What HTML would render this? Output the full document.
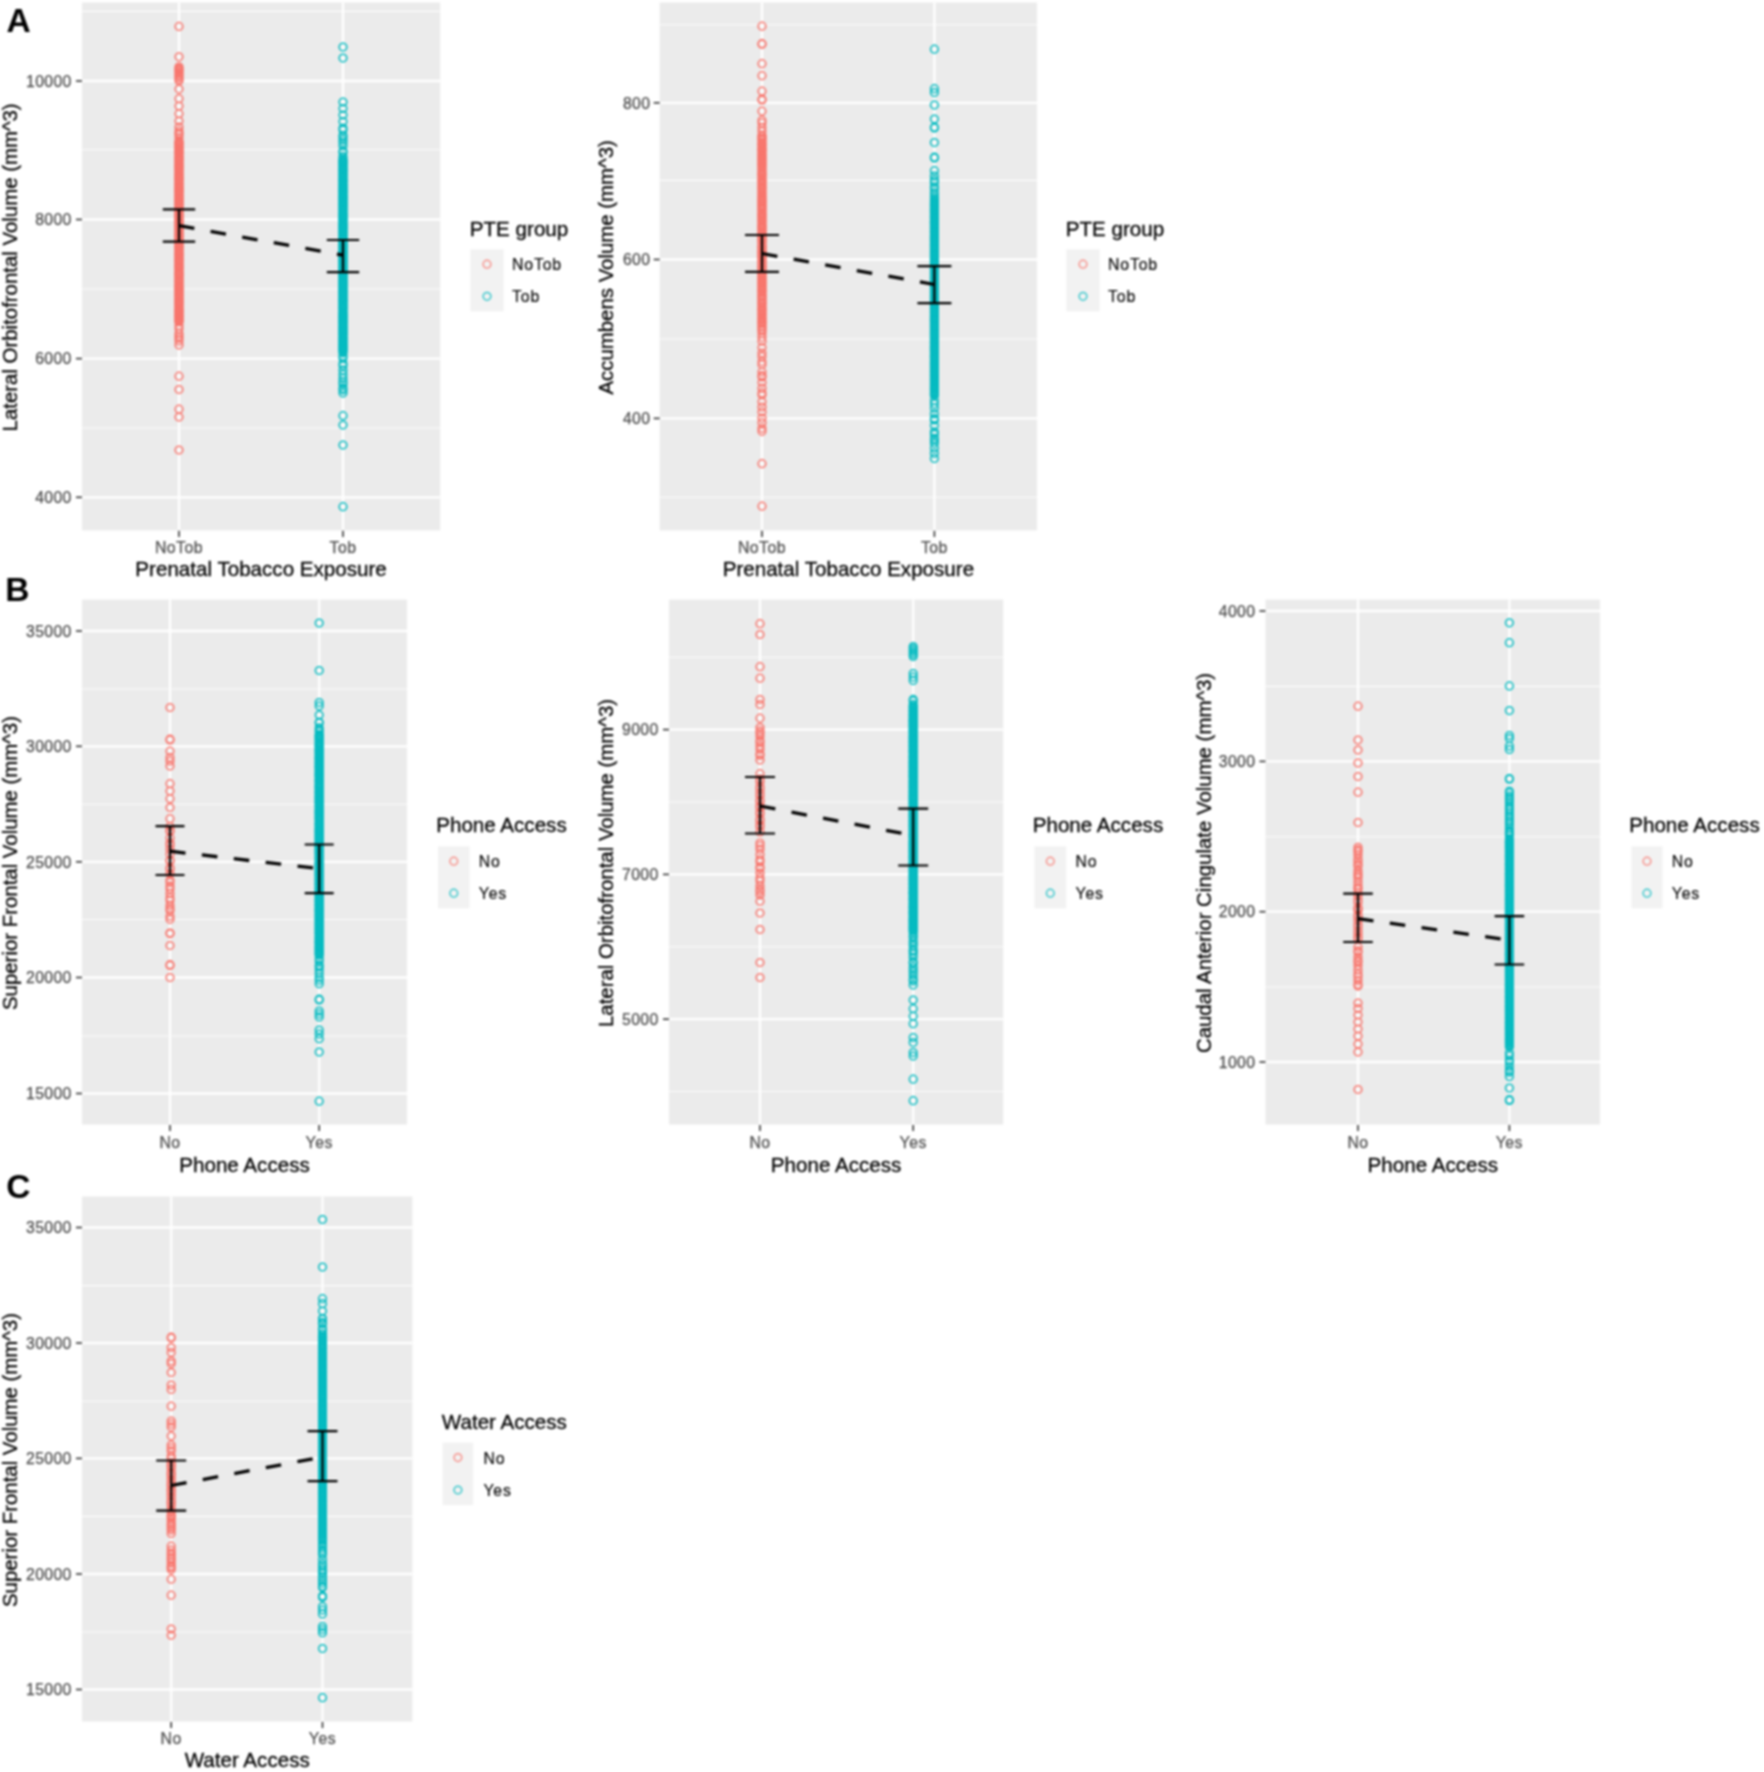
<!DOCTYPE html>
<html lang="en">
<head>
<meta charset="utf-8">
<title>Figure</title>
<style>
html,body{margin:0;padding:0;background:#fff;}
body{width:1764px;height:1772px;overflow:hidden;}
svg{display:block;filter:blur(0.8px);}
text{font-family:"Liberation Sans",sans-serif;}
.tt{font-size:20.6px;fill:#000;stroke:#000;stroke-width:.28;}
.ty{font-size:20.4px;fill:#000;stroke:#000;stroke-width:.28;}
.tk{font-size:15.8px;fill:#4D4D4D;stroke:#4D4D4D;stroke-width:.25;}
.lg{font-size:15.8px;fill:#000;stroke:#000;stroke-width:.15;}
.pl{font-size:33.5px;font-weight:bold;fill:#000;}
.r{fill:none;stroke:#F8766D;stroke-width:1.5;}
.t{fill:none;stroke:#06BBC1;stroke-width:1.5;}
.gM{stroke:#fff;stroke-width:2.3;}
.gm{stroke:#fff;stroke-width:1.1;stroke-opacity:.85;}
.ax{stroke:#333333;stroke-width:1.6;}
.eb{stroke:#000;stroke-width:2.2;fill:none;}
.dl{stroke:#000;stroke-width:3.3;stroke-dasharray:15.6 16.5;fill:none;}
</style>
</head>
<body>
<svg width="1764" height="1772" viewBox="0 0 1764 1772">
<rect width="1764" height="1772" fill="#fff"/>
<g>
<rect x="82" y="2.5" width="358.2" height="527.9" fill="#EBEBEB"/>
<line class="gm" x1="82" x2="440.2" y1="11.4" y2="11.4"/><line class="gm" x1="82" x2="440.2" y1="149.7" y2="149.7"/><line class="gm" x1="82" x2="440.2" y1="289" y2="289"/><line class="gm" x1="82" x2="440.2" y1="428" y2="428"/>
<line class="gM" x1="82" x2="440.2" y1="81" y2="81"/><line class="gM" x1="82" x2="440.2" y1="219.5" y2="219.5"/><line class="gM" x1="82" x2="440.2" y1="358.6" y2="358.6"/><line class="gM" x1="82" x2="440.2" y1="497.3" y2="497.3"/><line class="gM" x1="179" x2="179" y1="2.5" y2="530.4"/><line class="gM" x1="343" x2="343" y1="2.5" y2="530.4"/>
<g class="r"><circle cx="179" cy="26.4" r="3.85"/><circle cx="179" cy="56.8" r="3.85"/><circle cx="179" cy="66.8" r="3.85"/><circle cx="179" cy="68.5" r="3.85"/><circle cx="179" cy="69.6" r="3.85"/><circle cx="179" cy="70.6" r="3.85"/><circle cx="179" cy="72.2" r="3.85"/><circle cx="179" cy="73.7" r="3.85"/><circle cx="179" cy="75.4" r="3.85"/><circle cx="179" cy="76.9" r="3.85"/><circle cx="179" cy="78.9" r="3.85"/><circle cx="179" cy="80.8" r="3.85"/><circle cx="179" cy="89" r="3.85"/><circle cx="179" cy="98.7" r="3.85"/><circle cx="179" cy="106" r="3.85"/><circle cx="179" cy="113.7" r="3.85"/><circle cx="179" cy="121" r="3.85"/><circle cx="179" cy="127" r="3.85"/><circle cx="179" cy="131.1" r="3.85"/><circle cx="179" cy="133.3" r="3.85"/><circle cx="179" cy="134.5" r="3.85"/><circle cx="179" cy="137.5" r="3.85"/><circle cx="179" cy="140.9" r="3.85"/><circle cx="179" cy="142.1" r="3.85"/><circle cx="179" cy="143" r="3.85"/><circle cx="179" cy="143.4" r="3.85"/><circle cx="179" cy="144.7" r="3.85"/><circle cx="179" cy="145.4" r="3.85"/><circle cx="179" cy="146.5" r="3.85"/><circle cx="179" cy="147.7" r="3.85"/><circle cx="179" cy="148.4" r="3.85"/><circle cx="179" cy="149.6" r="3.85"/><circle cx="179" cy="151" r="3.85"/><circle cx="179" cy="152" r="3.85"/><circle cx="179" cy="152.4" r="3.85"/><circle cx="179" cy="153.4" r="3.85"/><circle cx="179" cy="154.3" r="3.85"/><circle cx="179" cy="155.9" r="3.85"/><circle cx="179" cy="157" r="3.85"/><circle cx="179" cy="157.8" r="3.85"/><circle cx="179" cy="158.8" r="3.85"/><circle cx="179" cy="159.9" r="3.85"/><circle cx="179" cy="160.9" r="3.85"/><circle cx="179" cy="161.7" r="3.85"/><circle cx="179" cy="163.2" r="3.85"/><circle cx="179" cy="164.6" r="3.85"/><circle cx="179" cy="165.1" r="3.85"/><circle cx="179" cy="166" r="3.85"/><circle cx="179" cy="167.1" r="3.85"/><circle cx="179" cy="167.8" r="3.85"/><circle cx="179" cy="169" r="3.85"/><circle cx="179" cy="170" r="3.85"/><circle cx="179" cy="171" r="3.85"/><circle cx="179" cy="172.3" r="3.85"/><circle cx="179" cy="173.7" r="3.85"/><circle cx="179" cy="174.5" r="3.85"/><circle cx="179" cy="175.5" r="3.85"/><circle cx="179" cy="177.1" r="3.85"/><circle cx="179" cy="177.4" r="3.85"/><circle cx="179" cy="178.3" r="3.85"/><circle cx="179" cy="179.5" r="3.85"/><circle cx="179" cy="180" r="3.85"/><circle cx="179" cy="181.2" r="3.85"/><circle cx="179" cy="182.7" r="3.85"/><circle cx="179" cy="183.5" r="3.85"/><circle cx="179" cy="184.6" r="3.85"/><circle cx="179" cy="185.6" r="3.85"/><circle cx="179" cy="186.7" r="3.85"/><circle cx="179" cy="187.5" r="3.85"/><circle cx="179" cy="188.2" r="3.85"/><circle cx="179" cy="189.3" r="3.85"/><circle cx="179" cy="190.2" r="3.85"/><circle cx="179" cy="191.1" r="3.85"/><circle cx="179" cy="191.6" r="3.85"/><circle cx="179" cy="192.5" r="3.85"/><circle cx="179" cy="193.4" r="3.85"/><circle cx="179" cy="195" r="3.85"/><circle cx="179" cy="195.6" r="3.85"/><circle cx="179" cy="196.6" r="3.85"/><circle cx="179" cy="197.7" r="3.85"/><circle cx="179" cy="198.7" r="3.85"/><circle cx="179" cy="199.4" r="3.85"/><circle cx="179" cy="200.4" r="3.85"/><circle cx="179" cy="201.6" r="3.85"/><circle cx="179" cy="201.9" r="3.85"/><circle cx="179" cy="203.5" r="3.85"/><circle cx="179" cy="204.3" r="3.85"/><circle cx="179" cy="205.1" r="3.85"/><circle cx="179" cy="206.5" r="3.85"/><circle cx="179" cy="207.2" r="3.85"/><circle cx="179" cy="208.1" r="3.85"/><circle cx="179" cy="209.5" r="3.85"/><circle cx="179" cy="210.5" r="3.85"/><circle cx="179" cy="211.7" r="3.85"/><circle cx="179" cy="212.9" r="3.85"/><circle cx="179" cy="214.1" r="3.85"/><circle cx="179" cy="214.8" r="3.85"/><circle cx="179" cy="215.9" r="3.85"/><circle cx="179" cy="216.4" r="3.85"/><circle cx="179" cy="217.5" r="3.85"/><circle cx="179" cy="219" r="3.85"/><circle cx="179" cy="220" r="3.85"/><circle cx="179" cy="221.3" r="3.85"/><circle cx="179" cy="221.7" r="3.85"/><circle cx="179" cy="222.5" r="3.85"/><circle cx="179" cy="223.7" r="3.85"/><circle cx="179" cy="225" r="3.85"/><circle cx="179" cy="225.9" r="3.85"/><circle cx="179" cy="226.6" r="3.85"/><circle cx="179" cy="228.3" r="3.85"/><circle cx="179" cy="229.3" r="3.85"/><circle cx="179" cy="229.9" r="3.85"/><circle cx="179" cy="231.2" r="3.85"/><circle cx="179" cy="232.8" r="3.85"/><circle cx="179" cy="233.3" r="3.85"/><circle cx="179" cy="234.8" r="3.85"/><circle cx="179" cy="235.2" r="3.85"/><circle cx="179" cy="236.6" r="3.85"/><circle cx="179" cy="237.2" r="3.85"/><circle cx="179" cy="238.9" r="3.85"/><circle cx="179" cy="239.6" r="3.85"/><circle cx="179" cy="240.4" r="3.85"/><circle cx="179" cy="241.8" r="3.85"/><circle cx="179" cy="242.5" r="3.85"/><circle cx="179" cy="243.7" r="3.85"/><circle cx="179" cy="245.2" r="3.85"/><circle cx="179" cy="245.6" r="3.85"/><circle cx="179" cy="246.5" r="3.85"/><circle cx="179" cy="247.6" r="3.85"/><circle cx="179" cy="248.4" r="3.85"/><circle cx="179" cy="249.8" r="3.85"/><circle cx="179" cy="250.9" r="3.85"/><circle cx="179" cy="252" r="3.85"/><circle cx="179" cy="253.3" r="3.85"/><circle cx="179" cy="254.3" r="3.85"/><circle cx="179" cy="255" r="3.85"/><circle cx="179" cy="255.5" r="3.85"/><circle cx="179" cy="256.8" r="3.85"/><circle cx="179" cy="258.2" r="3.85"/><circle cx="179" cy="258.9" r="3.85"/><circle cx="179" cy="260.1" r="3.85"/><circle cx="179" cy="260.9" r="3.85"/><circle cx="179" cy="262.1" r="3.85"/><circle cx="179" cy="263.3" r="3.85"/><circle cx="179" cy="264.2" r="3.85"/><circle cx="179" cy="265.5" r="3.85"/><circle cx="179" cy="266.3" r="3.85"/><circle cx="179" cy="267.2" r="3.85"/><circle cx="179" cy="268.3" r="3.85"/><circle cx="179" cy="269.3" r="3.85"/><circle cx="179" cy="270.7" r="3.85"/><circle cx="179" cy="272.1" r="3.85"/><circle cx="179" cy="272.7" r="3.85"/><circle cx="179" cy="274.1" r="3.85"/><circle cx="179" cy="274.4" r="3.85"/><circle cx="179" cy="275.3" r="3.85"/><circle cx="179" cy="276.2" r="3.85"/><circle cx="179" cy="277.8" r="3.85"/><circle cx="179" cy="278.6" r="3.85"/><circle cx="179" cy="280" r="3.85"/><circle cx="179" cy="281" r="3.85"/><circle cx="179" cy="281.8" r="3.85"/><circle cx="179" cy="283.1" r="3.85"/><circle cx="179" cy="284.5" r="3.85"/><circle cx="179" cy="285.1" r="3.85"/><circle cx="179" cy="286.3" r="3.85"/><circle cx="179" cy="287" r="3.85"/><circle cx="179" cy="288.3" r="3.85"/><circle cx="179" cy="288.9" r="3.85"/><circle cx="179" cy="289.5" r="3.85"/><circle cx="179" cy="290.9" r="3.85"/><circle cx="179" cy="291.5" r="3.85"/><circle cx="179" cy="293.2" r="3.85"/><circle cx="179" cy="294" r="3.85"/><circle cx="179" cy="294.8" r="3.85"/><circle cx="179" cy="296.1" r="3.85"/><circle cx="179" cy="297.1" r="3.85"/><circle cx="179" cy="298.5" r="3.85"/><circle cx="179" cy="299" r="3.85"/><circle cx="179" cy="300.5" r="3.85"/><circle cx="179" cy="301.2" r="3.85"/><circle cx="179" cy="302.4" r="3.85"/><circle cx="179" cy="302.9" r="3.85"/><circle cx="179" cy="304.6" r="3.85"/><circle cx="179" cy="305.3" r="3.85"/><circle cx="179" cy="306.5" r="3.85"/><circle cx="179" cy="307.9" r="3.85"/><circle cx="179" cy="308.9" r="3.85"/><circle cx="179" cy="309.9" r="3.85"/><circle cx="179" cy="310.9" r="3.85"/><circle cx="179" cy="311.5" r="3.85"/><circle cx="179" cy="312.3" r="3.85"/><circle cx="179" cy="313.3" r="3.85"/><circle cx="179" cy="314.6" r="3.85"/><circle cx="179" cy="315.3" r="3.85"/><circle cx="179" cy="316" r="3.85"/><circle cx="179" cy="316.7" r="3.85"/><circle cx="179" cy="317.8" r="3.85"/><circle cx="179" cy="318.4" r="3.85"/><circle cx="179" cy="319.9" r="3.85"/><circle cx="179" cy="320.7" r="3.85"/><circle cx="179" cy="321.4" r="3.85"/><circle cx="179" cy="321.8" r="3.85"/><circle cx="179" cy="325.6" r="3.85"/><circle cx="179" cy="328.8" r="3.85"/><circle cx="179" cy="333.4" r="3.85"/><circle cx="179" cy="336.1" r="3.85"/><circle cx="179" cy="338.3" r="3.85"/><circle cx="179" cy="340.9" r="3.85"/><circle cx="179" cy="344.9" r="3.85"/><circle cx="179" cy="376.2" r="3.85"/><circle cx="179" cy="389.5" r="3.85"/><circle cx="179" cy="409.2" r="3.85"/><circle cx="179" cy="417" r="3.85"/><circle cx="179" cy="450" r="3.85"/></g>
<g class="t"><circle cx="343" cy="47" r="3.85"/><circle cx="343" cy="58" r="3.85"/><circle cx="343" cy="102" r="3.85"/><circle cx="343" cy="108.5" r="3.85"/><circle cx="343" cy="115" r="3.85"/><circle cx="343" cy="121.5" r="3.85"/><circle cx="343" cy="128" r="3.85"/><circle cx="343" cy="130.1" r="3.85"/><circle cx="343" cy="135.3" r="3.85"/><circle cx="343" cy="137.3" r="3.85"/><circle cx="343" cy="139.9" r="3.85"/><circle cx="343" cy="142.6" r="3.85"/><circle cx="343" cy="145.7" r="3.85"/><circle cx="343" cy="150.9" r="3.85"/><circle cx="343" cy="152.5" r="3.85"/><circle cx="343" cy="156.3" r="3.85"/><circle cx="343" cy="158.4" r="3.85"/><circle cx="343" cy="160" r="3.85"/><circle cx="343" cy="160.8" r="3.85"/><circle cx="343" cy="161.7" r="3.85"/><circle cx="343" cy="162.6" r="3.85"/><circle cx="343" cy="163.5" r="3.85"/><circle cx="343" cy="164.5" r="3.85"/><circle cx="343" cy="165.5" r="3.85"/><circle cx="343" cy="166.7" r="3.85"/><circle cx="343" cy="167.7" r="3.85"/><circle cx="343" cy="168.7" r="3.85"/><circle cx="343" cy="170" r="3.85"/><circle cx="343" cy="170.6" r="3.85"/><circle cx="343" cy="171.2" r="3.85"/><circle cx="343" cy="173" r="3.85"/><circle cx="343" cy="174" r="3.85"/><circle cx="343" cy="174.7" r="3.85"/><circle cx="343" cy="176" r="3.85"/><circle cx="343" cy="177.3" r="3.85"/><circle cx="343" cy="178.3" r="3.85"/><circle cx="343" cy="179.6" r="3.85"/><circle cx="343" cy="180.4" r="3.85"/><circle cx="343" cy="181.1" r="3.85"/><circle cx="343" cy="182" r="3.85"/><circle cx="343" cy="183.5" r="3.85"/><circle cx="343" cy="184.6" r="3.85"/><circle cx="343" cy="185.6" r="3.85"/><circle cx="343" cy="186.6" r="3.85"/><circle cx="343" cy="187.5" r="3.85"/><circle cx="343" cy="188.6" r="3.85"/><circle cx="343" cy="189.4" r="3.85"/><circle cx="343" cy="189.9" r="3.85"/><circle cx="343" cy="191.2" r="3.85"/><circle cx="343" cy="192.1" r="3.85"/><circle cx="343" cy="193.1" r="3.85"/><circle cx="343" cy="194" r="3.85"/><circle cx="343" cy="195.3" r="3.85"/><circle cx="343" cy="196.3" r="3.85"/><circle cx="343" cy="196.8" r="3.85"/><circle cx="343" cy="198.1" r="3.85"/><circle cx="343" cy="198.8" r="3.85"/><circle cx="343" cy="199.2" r="3.85"/><circle cx="343" cy="200.5" r="3.85"/><circle cx="343" cy="201.6" r="3.85"/><circle cx="343" cy="202.4" r="3.85"/><circle cx="343" cy="203.4" r="3.85"/><circle cx="343" cy="204.5" r="3.85"/><circle cx="343" cy="205.4" r="3.85"/><circle cx="343" cy="205.9" r="3.85"/><circle cx="343" cy="207.5" r="3.85"/><circle cx="343" cy="208.5" r="3.85"/><circle cx="343" cy="209.2" r="3.85"/><circle cx="343" cy="210.4" r="3.85"/><circle cx="343" cy="211.4" r="3.85"/><circle cx="343" cy="213" r="3.85"/><circle cx="343" cy="213.7" r="3.85"/><circle cx="343" cy="214.7" r="3.85"/><circle cx="343" cy="215.4" r="3.85"/><circle cx="343" cy="216.8" r="3.85"/><circle cx="343" cy="217.2" r="3.85"/><circle cx="343" cy="218.5" r="3.85"/><circle cx="343" cy="219.2" r="3.85"/><circle cx="343" cy="220.2" r="3.85"/><circle cx="343" cy="221.2" r="3.85"/><circle cx="343" cy="222.9" r="3.85"/><circle cx="343" cy="223.8" r="3.85"/><circle cx="343" cy="224.8" r="3.85"/><circle cx="343" cy="225.4" r="3.85"/><circle cx="343" cy="226.8" r="3.85"/><circle cx="343" cy="227.3" r="3.85"/><circle cx="343" cy="228.3" r="3.85"/><circle cx="343" cy="228.9" r="3.85"/><circle cx="343" cy="230.2" r="3.85"/><circle cx="343" cy="231.4" r="3.85"/><circle cx="343" cy="232.5" r="3.85"/><circle cx="343" cy="233.2" r="3.85"/><circle cx="343" cy="234.8" r="3.85"/><circle cx="343" cy="235.8" r="3.85"/><circle cx="343" cy="237.2" r="3.85"/><circle cx="343" cy="238.1" r="3.85"/><circle cx="343" cy="238.9" r="3.85"/><circle cx="343" cy="239.8" r="3.85"/><circle cx="343" cy="240.6" r="3.85"/><circle cx="343" cy="241.8" r="3.85"/><circle cx="343" cy="242.3" r="3.85"/><circle cx="343" cy="243.1" r="3.85"/><circle cx="343" cy="244.7" r="3.85"/><circle cx="343" cy="245.4" r="3.85"/><circle cx="343" cy="246.2" r="3.85"/><circle cx="343" cy="246.9" r="3.85"/><circle cx="343" cy="247.7" r="3.85"/><circle cx="343" cy="249.1" r="3.85"/><circle cx="343" cy="250.3" r="3.85"/><circle cx="343" cy="251.2" r="3.85"/><circle cx="343" cy="251.8" r="3.85"/><circle cx="343" cy="252.7" r="3.85"/><circle cx="343" cy="253.5" r="3.85"/><circle cx="343" cy="254.6" r="3.85"/><circle cx="343" cy="255.9" r="3.85"/><circle cx="343" cy="256.6" r="3.85"/><circle cx="343" cy="257.6" r="3.85"/><circle cx="343" cy="258.3" r="3.85"/><circle cx="343" cy="259.8" r="3.85"/><circle cx="343" cy="260.3" r="3.85"/><circle cx="343" cy="261.6" r="3.85"/><circle cx="343" cy="262.1" r="3.85"/><circle cx="343" cy="263" r="3.85"/><circle cx="343" cy="264.4" r="3.85"/><circle cx="343" cy="265.5" r="3.85"/><circle cx="343" cy="265.7" r="3.85"/><circle cx="343" cy="267.4" r="3.85"/><circle cx="343" cy="268.2" r="3.85"/><circle cx="343" cy="268.8" r="3.85"/><circle cx="343" cy="270.3" r="3.85"/><circle cx="343" cy="271.6" r="3.85"/><circle cx="343" cy="271.8" r="3.85"/><circle cx="343" cy="273" r="3.85"/><circle cx="343" cy="274.3" r="3.85"/><circle cx="343" cy="275.3" r="3.85"/><circle cx="343" cy="276.3" r="3.85"/><circle cx="343" cy="277" r="3.85"/><circle cx="343" cy="278.3" r="3.85"/><circle cx="343" cy="279.8" r="3.85"/><circle cx="343" cy="280.3" r="3.85"/><circle cx="343" cy="281.5" r="3.85"/><circle cx="343" cy="282.3" r="3.85"/><circle cx="343" cy="283.3" r="3.85"/><circle cx="343" cy="284.3" r="3.85"/><circle cx="343" cy="285.3" r="3.85"/><circle cx="343" cy="285.8" r="3.85"/><circle cx="343" cy="287.3" r="3.85"/><circle cx="343" cy="288.3" r="3.85"/><circle cx="343" cy="288.8" r="3.85"/><circle cx="343" cy="290.2" r="3.85"/><circle cx="343" cy="290.9" r="3.85"/><circle cx="343" cy="291.8" r="3.85"/><circle cx="343" cy="292.8" r="3.85"/><circle cx="343" cy="293.8" r="3.85"/><circle cx="343" cy="294.7" r="3.85"/><circle cx="343" cy="295.6" r="3.85"/><circle cx="343" cy="296.8" r="3.85"/><circle cx="343" cy="297.7" r="3.85"/><circle cx="343" cy="298.6" r="3.85"/><circle cx="343" cy="299.8" r="3.85"/><circle cx="343" cy="300.6" r="3.85"/><circle cx="343" cy="301.1" r="3.85"/><circle cx="343" cy="302.2" r="3.85"/><circle cx="343" cy="303.6" r="3.85"/><circle cx="343" cy="304.3" r="3.85"/><circle cx="343" cy="305.5" r="3.85"/><circle cx="343" cy="306.4" r="3.85"/><circle cx="343" cy="307.4" r="3.85"/><circle cx="343" cy="308.6" r="3.85"/><circle cx="343" cy="309.3" r="3.85"/><circle cx="343" cy="310.8" r="3.85"/><circle cx="343" cy="311.9" r="3.85"/><circle cx="343" cy="313.3" r="3.85"/><circle cx="343" cy="313.7" r="3.85"/><circle cx="343" cy="315.3" r="3.85"/><circle cx="343" cy="316" r="3.85"/><circle cx="343" cy="316.7" r="3.85"/><circle cx="343" cy="317.5" r="3.85"/><circle cx="343" cy="318.3" r="3.85"/><circle cx="343" cy="319.7" r="3.85"/><circle cx="343" cy="320.6" r="3.85"/><circle cx="343" cy="321" r="3.85"/><circle cx="343" cy="322.5" r="3.85"/><circle cx="343" cy="322.9" r="3.85"/><circle cx="343" cy="324.1" r="3.85"/><circle cx="343" cy="325.2" r="3.85"/><circle cx="343" cy="326.6" r="3.85"/><circle cx="343" cy="327" r="3.85"/><circle cx="343" cy="328.4" r="3.85"/><circle cx="343" cy="328.7" r="3.85"/><circle cx="343" cy="330.1" r="3.85"/><circle cx="343" cy="330.9" r="3.85"/><circle cx="343" cy="331.8" r="3.85"/><circle cx="343" cy="333.1" r="3.85"/><circle cx="343" cy="333.7" r="3.85"/><circle cx="343" cy="334.8" r="3.85"/><circle cx="343" cy="335.5" r="3.85"/><circle cx="343" cy="337.2" r="3.85"/><circle cx="343" cy="338.3" r="3.85"/><circle cx="343" cy="338.6" r="3.85"/><circle cx="343" cy="340.1" r="3.85"/><circle cx="343" cy="340.9" r="3.85"/><circle cx="343" cy="341.8" r="3.85"/><circle cx="343" cy="343.2" r="3.85"/><circle cx="343" cy="343.9" r="3.85"/><circle cx="343" cy="345.1" r="3.85"/><circle cx="343" cy="346" r="3.85"/><circle cx="343" cy="346.8" r="3.85"/><circle cx="343" cy="348" r="3.85"/><circle cx="343" cy="348.4" r="3.85"/><circle cx="343" cy="349.6" r="3.85"/><circle cx="343" cy="350.2" r="3.85"/><circle cx="343" cy="351.4" r="3.85"/><circle cx="343" cy="353" r="3.85"/><circle cx="343" cy="355.9" r="3.85"/><circle cx="343" cy="358.3" r="3.85"/><circle cx="343" cy="363.5" r="3.85"/><circle cx="343" cy="365.8" r="3.85"/><circle cx="343" cy="370.2" r="3.85"/><circle cx="343" cy="374.4" r="3.85"/><circle cx="343" cy="378.4" r="3.85"/><circle cx="343" cy="381.8" r="3.85"/><circle cx="343" cy="384.3" r="3.85"/><circle cx="343" cy="388.1" r="3.85"/><circle cx="343" cy="390" r="3.85"/><circle cx="343" cy="392.9" r="3.85"/><circle cx="343" cy="415.7" r="3.85"/><circle cx="343" cy="425" r="3.85"/><circle cx="343" cy="445" r="3.85"/><circle cx="343" cy="506.7" r="3.85"/></g>
<line class="dl" x1="179" y1="225.6" x2="343" y2="255.2"/>
<path class="eb" d="M162.8 209.3H195.2M179 209.3V241.7M162.8 241.7H195.2"/><path class="eb" d="M326.8 240H359.2M343 240V272.2M326.8 272.2H359.2"/>
<line class="ax" x1="76" x2="82" y1="81" y2="81"/><text class="tk" letter-spacing=".35" text-anchor="end" x="71.7" y="86.7">10000</text><line class="ax" x1="76" x2="82" y1="219.5" y2="219.5"/><text class="tk" letter-spacing=".35" text-anchor="end" x="71.7" y="225.2">8000</text><line class="ax" x1="76" x2="82" y1="358.6" y2="358.6"/><text class="tk" letter-spacing=".35" text-anchor="end" x="71.7" y="364.3">6000</text><line class="ax" x1="76" x2="82" y1="497.3" y2="497.3"/><text class="tk" letter-spacing=".35" text-anchor="end" x="71.7" y="503">4000</text>
<line class="ax" x1="179" x2="179" y1="530.8" y2="537"/><text class="tk" letter-spacing=".5" text-anchor="middle" x="179" y="552.7">NoTob</text><line class="ax" x1="343" x2="343" y1="530.8" y2="537"/><text class="tk" letter-spacing=".5" text-anchor="middle" x="343" y="552.7">Tob</text>
<text class="tt" text-anchor="middle" x="261.1" y="575.5">Prenatal Tobacco Exposure</text>
<text class="ty" text-anchor="middle" transform="translate(16.5 267.4) rotate(-90)">Lateral Orbitofrontal Volume (mm^3)</text>
<text class="tt" x="469.8" y="235.7">PTE group</text>
<rect x="470.4" y="249.3" width="33.3" height="62.1" fill="#F2F2F2"/>
<circle class="r" stroke-opacity=".78" cx="487" cy="264.2" r="3.85"/><text class="lg" letter-spacing=".85" x="512" y="270.3">NoTob</text>
<circle class="t" stroke-opacity=".78" cx="487" cy="296.3" r="3.85"/><text class="lg" letter-spacing=".85" x="512" y="302.4">Tob</text>
</g>
<g>
<rect x="659.7" y="2.5" width="377.3" height="527.9" fill="#EBEBEB"/>
<line class="gm" x1="659.7" x2="1037" y1="24.8" y2="24.8"/><line class="gm" x1="659.7" x2="1037" y1="180.4" y2="180.4"/><line class="gm" x1="659.7" x2="1037" y1="339" y2="339"/><line class="gm" x1="659.7" x2="1037" y1="497.3" y2="497.3"/>
<line class="gM" x1="659.7" x2="1037" y1="102.8" y2="102.8"/><line class="gM" x1="659.7" x2="1037" y1="259.5" y2="259.5"/><line class="gM" x1="659.7" x2="1037" y1="418.4" y2="418.4"/><line class="gM" x1="762" x2="762" y1="2.5" y2="530.4"/><line class="gM" x1="934.4" x2="934.4" y1="2.5" y2="530.4"/>
<g class="r"><circle cx="762" cy="26.2" r="3.85"/><circle cx="762" cy="43.7" r="3.85"/><circle cx="762" cy="44.2" r="3.85"/><circle cx="762" cy="63.7" r="3.85"/><circle cx="762" cy="75.7" r="3.85"/><circle cx="762" cy="91.2" r="3.85"/><circle cx="762" cy="99.2" r="3.85"/><circle cx="762" cy="100" r="3.85"/><circle cx="762" cy="111.2" r="3.85"/><circle cx="762" cy="120.2" r="3.85"/><circle cx="762" cy="122.9" r="3.85"/><circle cx="762" cy="127.6" r="3.85"/><circle cx="762" cy="131.3" r="3.85"/><circle cx="762" cy="135.6" r="3.85"/><circle cx="762" cy="136" r="3.85"/><circle cx="762" cy="138" r="3.85"/><circle cx="762" cy="138.9" r="3.85"/><circle cx="762" cy="140.2" r="3.85"/><circle cx="762" cy="142.2" r="3.85"/><circle cx="762" cy="143.6" r="3.85"/><circle cx="762" cy="144.9" r="3.85"/><circle cx="762" cy="145.6" r="3.85"/><circle cx="762" cy="147.9" r="3.85"/><circle cx="762" cy="148.7" r="3.85"/><circle cx="762" cy="149.8" r="3.85"/><circle cx="762" cy="151" r="3.85"/><circle cx="762" cy="152.3" r="3.85"/><circle cx="762" cy="154.2" r="3.85"/><circle cx="762" cy="154.8" r="3.85"/><circle cx="762" cy="156.7" r="3.85"/><circle cx="762" cy="157.5" r="3.85"/><circle cx="762" cy="159.2" r="3.85"/><circle cx="762" cy="159.9" r="3.85"/><circle cx="762" cy="161.4" r="3.85"/><circle cx="762" cy="163" r="3.85"/><circle cx="762" cy="163.7" r="3.85"/><circle cx="762" cy="165.5" r="3.85"/><circle cx="762" cy="166.6" r="3.85"/><circle cx="762" cy="168.3" r="3.85"/><circle cx="762" cy="169.8" r="3.85"/><circle cx="762" cy="171.7" r="3.85"/><circle cx="762" cy="172.9" r="3.85"/><circle cx="762" cy="174.5" r="3.85"/><circle cx="762" cy="174.9" r="3.85"/><circle cx="762" cy="177" r="3.85"/><circle cx="762" cy="178.6" r="3.85"/><circle cx="762" cy="180.4" r="3.85"/><circle cx="762" cy="181.1" r="3.85"/><circle cx="762" cy="183.1" r="3.85"/><circle cx="762" cy="184.3" r="3.85"/><circle cx="762" cy="186" r="3.85"/><circle cx="762" cy="187.2" r="3.85"/><circle cx="762" cy="188.8" r="3.85"/><circle cx="762" cy="190.1" r="3.85"/><circle cx="762" cy="192.2" r="3.85"/><circle cx="762" cy="193.3" r="3.85"/><circle cx="762" cy="195.2" r="3.85"/><circle cx="762" cy="196.5" r="3.85"/><circle cx="762" cy="198" r="3.85"/><circle cx="762" cy="199.3" r="3.85"/><circle cx="762" cy="200.7" r="3.85"/><circle cx="762" cy="201.8" r="3.85"/><circle cx="762" cy="202.7" r="3.85"/><circle cx="762" cy="204.7" r="3.85"/><circle cx="762" cy="205.3" r="3.85"/><circle cx="762" cy="206.9" r="3.85"/><circle cx="762" cy="207.9" r="3.85"/><circle cx="762" cy="209.7" r="3.85"/><circle cx="762" cy="210.7" r="3.85"/><circle cx="762" cy="212.8" r="3.85"/><circle cx="762" cy="214" r="3.85"/><circle cx="762" cy="214.9" r="3.85"/><circle cx="762" cy="216.4" r="3.85"/><circle cx="762" cy="217.4" r="3.85"/><circle cx="762" cy="218.9" r="3.85"/><circle cx="762" cy="220.4" r="3.85"/><circle cx="762" cy="221.4" r="3.85"/><circle cx="762" cy="223.3" r="3.85"/><circle cx="762" cy="224.8" r="3.85"/><circle cx="762" cy="226.1" r="3.85"/><circle cx="762" cy="227.3" r="3.85"/><circle cx="762" cy="228" r="3.85"/><circle cx="762" cy="229.4" r="3.85"/><circle cx="762" cy="231.1" r="3.85"/><circle cx="762" cy="232.3" r="3.85"/><circle cx="762" cy="233.5" r="3.85"/><circle cx="762" cy="234.9" r="3.85"/><circle cx="762" cy="236" r="3.85"/><circle cx="762" cy="237.7" r="3.85"/><circle cx="762" cy="238.8" r="3.85"/><circle cx="762" cy="240.4" r="3.85"/><circle cx="762" cy="241.5" r="3.85"/><circle cx="762" cy="243.5" r="3.85"/><circle cx="762" cy="245.7" r="3.85"/><circle cx="762" cy="246.7" r="3.85"/><circle cx="762" cy="247.7" r="3.85"/><circle cx="762" cy="249.7" r="3.85"/><circle cx="762" cy="251" r="3.85"/><circle cx="762" cy="252.2" r="3.85"/><circle cx="762" cy="253" r="3.85"/><circle cx="762" cy="254.4" r="3.85"/><circle cx="762" cy="255.9" r="3.85"/><circle cx="762" cy="256.7" r="3.85"/><circle cx="762" cy="258" r="3.85"/><circle cx="762" cy="260.3" r="3.85"/><circle cx="762" cy="261.4" r="3.85"/><circle cx="762" cy="263" r="3.85"/><circle cx="762" cy="264.9" r="3.85"/><circle cx="762" cy="266.4" r="3.85"/><circle cx="762" cy="267.6" r="3.85"/><circle cx="762" cy="268.8" r="3.85"/><circle cx="762" cy="271.1" r="3.85"/><circle cx="762" cy="272.5" r="3.85"/><circle cx="762" cy="274" r="3.85"/><circle cx="762" cy="274.8" r="3.85"/><circle cx="762" cy="276.5" r="3.85"/><circle cx="762" cy="277.9" r="3.85"/><circle cx="762" cy="279.1" r="3.85"/><circle cx="762" cy="280.2" r="3.85"/><circle cx="762" cy="281.8" r="3.85"/><circle cx="762" cy="283.1" r="3.85"/><circle cx="762" cy="283.9" r="3.85"/><circle cx="762" cy="285.6" r="3.85"/><circle cx="762" cy="286.8" r="3.85"/><circle cx="762" cy="288.1" r="3.85"/><circle cx="762" cy="289.9" r="3.85"/><circle cx="762" cy="290.3" r="3.85"/><circle cx="762" cy="291.7" r="3.85"/><circle cx="762" cy="293.1" r="3.85"/><circle cx="762" cy="294.9" r="3.85"/><circle cx="762" cy="296.1" r="3.85"/><circle cx="762" cy="297.1" r="3.85"/><circle cx="762" cy="298.9" r="3.85"/><circle cx="762" cy="299.9" r="3.85"/><circle cx="762" cy="302.1" r="3.85"/><circle cx="762" cy="303.3" r="3.85"/><circle cx="762" cy="304.1" r="3.85"/><circle cx="762" cy="306.2" r="3.85"/><circle cx="762" cy="307.5" r="3.85"/><circle cx="762" cy="309.2" r="3.85"/><circle cx="762" cy="310.1" r="3.85"/><circle cx="762" cy="311.6" r="3.85"/><circle cx="762" cy="313.3" r="3.85"/><circle cx="762" cy="314.2" r="3.85"/><circle cx="762" cy="315.8" r="3.85"/><circle cx="762" cy="318.1" r="3.85"/><circle cx="762" cy="318.5" r="3.85"/><circle cx="762" cy="320.3" r="3.85"/><circle cx="762" cy="322.1" r="3.85"/><circle cx="762" cy="322.8" r="3.85"/><circle cx="762" cy="323.8" r="3.85"/><circle cx="762" cy="326.2" r="3.85"/><circle cx="762" cy="327" r="3.85"/><circle cx="762" cy="329.3" r="3.85"/><circle cx="762" cy="330.8" r="3.85"/><circle cx="762" cy="333.6" r="3.85"/><circle cx="762" cy="337.3" r="3.85"/><circle cx="762" cy="341.2" r="3.85"/><circle cx="762" cy="347.5" r="3.85"/><circle cx="762" cy="353" r="3.85"/><circle cx="762" cy="356.5" r="3.85"/><circle cx="762" cy="361.7" r="3.85"/><circle cx="762" cy="364.7" r="3.85"/><circle cx="762" cy="371.9" r="3.85"/><circle cx="762" cy="375.6" r="3.85"/><circle cx="762" cy="377" r="3.85"/><circle cx="762" cy="382.6" r="3.85"/><circle cx="762" cy="388.2" r="3.85"/><circle cx="762" cy="392.9" r="3.85"/><circle cx="762" cy="395" r="3.85"/><circle cx="762" cy="401.8" r="3.85"/><circle cx="762" cy="407" r="3.85"/><circle cx="762" cy="412" r="3.85"/><circle cx="762" cy="418.1" r="3.85"/><circle cx="762" cy="422.7" r="3.85"/><circle cx="762" cy="428.3" r="3.85"/><circle cx="762" cy="431.3" r="3.85"/><circle cx="762" cy="463.7" r="3.85"/><circle cx="762" cy="506.2" r="3.85"/></g>
<g class="t"><circle cx="934.4" cy="49.2" r="3.85"/><circle cx="934.4" cy="88.7" r="3.85"/><circle cx="934.4" cy="92.5" r="3.85"/><circle cx="934.4" cy="105" r="3.85"/><circle cx="934.4" cy="119" r="3.85"/><circle cx="934.4" cy="127.2" r="3.85"/><circle cx="934.4" cy="127.9" r="3.85"/><circle cx="934.4" cy="142.5" r="3.85"/><circle cx="934.4" cy="157.2" r="3.85"/><circle cx="934.4" cy="157.9" r="3.85"/><circle cx="934.4" cy="170.7" r="3.85"/><circle cx="934.4" cy="176.1" r="3.85"/><circle cx="934.4" cy="180.1" r="3.85"/><circle cx="934.4" cy="182.4" r="3.85"/><circle cx="934.4" cy="186.8" r="3.85"/><circle cx="934.4" cy="188.8" r="3.85"/><circle cx="934.4" cy="192.7" r="3.85"/><circle cx="934.4" cy="196.1" r="3.85"/><circle cx="934.4" cy="198.3" r="3.85"/><circle cx="934.4" cy="199.9" r="3.85"/><circle cx="934.4" cy="201.4" r="3.85"/><circle cx="934.4" cy="202.1" r="3.85"/><circle cx="934.4" cy="203.8" r="3.85"/><circle cx="934.4" cy="204.5" r="3.85"/><circle cx="934.4" cy="205.3" r="3.85"/><circle cx="934.4" cy="206.6" r="3.85"/><circle cx="934.4" cy="207.6" r="3.85"/><circle cx="934.4" cy="208.8" r="3.85"/><circle cx="934.4" cy="209.3" r="3.85"/><circle cx="934.4" cy="210.6" r="3.85"/><circle cx="934.4" cy="211.1" r="3.85"/><circle cx="934.4" cy="211.9" r="3.85"/><circle cx="934.4" cy="212.9" r="3.85"/><circle cx="934.4" cy="214.1" r="3.85"/><circle cx="934.4" cy="215.4" r="3.85"/><circle cx="934.4" cy="216.4" r="3.85"/><circle cx="934.4" cy="216.8" r="3.85"/><circle cx="934.4" cy="218.1" r="3.85"/><circle cx="934.4" cy="219.1" r="3.85"/><circle cx="934.4" cy="220.4" r="3.85"/><circle cx="934.4" cy="221.5" r="3.85"/><circle cx="934.4" cy="222.2" r="3.85"/><circle cx="934.4" cy="222.5" r="3.85"/><circle cx="934.4" cy="223.9" r="3.85"/><circle cx="934.4" cy="224.6" r="3.85"/><circle cx="934.4" cy="225.9" r="3.85"/><circle cx="934.4" cy="226.9" r="3.85"/><circle cx="934.4" cy="228" r="3.85"/><circle cx="934.4" cy="229.1" r="3.85"/><circle cx="934.4" cy="230.3" r="3.85"/><circle cx="934.4" cy="231.5" r="3.85"/><circle cx="934.4" cy="232.1" r="3.85"/><circle cx="934.4" cy="233.1" r="3.85"/><circle cx="934.4" cy="234.7" r="3.85"/><circle cx="934.4" cy="235.8" r="3.85"/><circle cx="934.4" cy="236.5" r="3.85"/><circle cx="934.4" cy="237.8" r="3.85"/><circle cx="934.4" cy="238.6" r="3.85"/><circle cx="934.4" cy="238.9" r="3.85"/><circle cx="934.4" cy="240.3" r="3.85"/><circle cx="934.4" cy="240.9" r="3.85"/><circle cx="934.4" cy="242" r="3.85"/><circle cx="934.4" cy="243.2" r="3.85"/><circle cx="934.4" cy="244.5" r="3.85"/><circle cx="934.4" cy="245.3" r="3.85"/><circle cx="934.4" cy="246" r="3.85"/><circle cx="934.4" cy="247.6" r="3.85"/><circle cx="934.4" cy="248.3" r="3.85"/><circle cx="934.4" cy="249.7" r="3.85"/><circle cx="934.4" cy="250.3" r="3.85"/><circle cx="934.4" cy="251.8" r="3.85"/><circle cx="934.4" cy="252.2" r="3.85"/><circle cx="934.4" cy="253.5" r="3.85"/><circle cx="934.4" cy="254.3" r="3.85"/><circle cx="934.4" cy="255.2" r="3.85"/><circle cx="934.4" cy="256.3" r="3.85"/><circle cx="934.4" cy="257" r="3.85"/><circle cx="934.4" cy="258.3" r="3.85"/><circle cx="934.4" cy="258.8" r="3.85"/><circle cx="934.4" cy="260" r="3.85"/><circle cx="934.4" cy="261.5" r="3.85"/><circle cx="934.4" cy="262.5" r="3.85"/><circle cx="934.4" cy="263.1" r="3.85"/><circle cx="934.4" cy="264.1" r="3.85"/><circle cx="934.4" cy="265.2" r="3.85"/><circle cx="934.4" cy="265.9" r="3.85"/><circle cx="934.4" cy="267.3" r="3.85"/><circle cx="934.4" cy="268.2" r="3.85"/><circle cx="934.4" cy="268.9" r="3.85"/><circle cx="934.4" cy="270.1" r="3.85"/><circle cx="934.4" cy="271.6" r="3.85"/><circle cx="934.4" cy="272.3" r="3.85"/><circle cx="934.4" cy="273.3" r="3.85"/><circle cx="934.4" cy="274.4" r="3.85"/><circle cx="934.4" cy="275.6" r="3.85"/><circle cx="934.4" cy="276.8" r="3.85"/><circle cx="934.4" cy="277.7" r="3.85"/><circle cx="934.4" cy="278.5" r="3.85"/><circle cx="934.4" cy="279.4" r="3.85"/><circle cx="934.4" cy="280.8" r="3.85"/><circle cx="934.4" cy="281.8" r="3.85"/><circle cx="934.4" cy="282.6" r="3.85"/><circle cx="934.4" cy="283.7" r="3.85"/><circle cx="934.4" cy="284.7" r="3.85"/><circle cx="934.4" cy="285.6" r="3.85"/><circle cx="934.4" cy="287" r="3.85"/><circle cx="934.4" cy="287.8" r="3.85"/><circle cx="934.4" cy="288.7" r="3.85"/><circle cx="934.4" cy="289.8" r="3.85"/><circle cx="934.4" cy="291.5" r="3.85"/><circle cx="934.4" cy="291.9" r="3.85"/><circle cx="934.4" cy="293.3" r="3.85"/><circle cx="934.4" cy="294.4" r="3.85"/><circle cx="934.4" cy="295.7" r="3.85"/><circle cx="934.4" cy="296.4" r="3.85"/><circle cx="934.4" cy="297.5" r="3.85"/><circle cx="934.4" cy="298.7" r="3.85"/><circle cx="934.4" cy="299.6" r="3.85"/><circle cx="934.4" cy="301" r="3.85"/><circle cx="934.4" cy="301.7" r="3.85"/><circle cx="934.4" cy="302.5" r="3.85"/><circle cx="934.4" cy="303.8" r="3.85"/><circle cx="934.4" cy="304.8" r="3.85"/><circle cx="934.4" cy="305.6" r="3.85"/><circle cx="934.4" cy="307.2" r="3.85"/><circle cx="934.4" cy="307.7" r="3.85"/><circle cx="934.4" cy="309" r="3.85"/><circle cx="934.4" cy="309.7" r="3.85"/><circle cx="934.4" cy="311.3" r="3.85"/><circle cx="934.4" cy="312.1" r="3.85"/><circle cx="934.4" cy="313" r="3.85"/><circle cx="934.4" cy="314.3" r="3.85"/><circle cx="934.4" cy="315.7" r="3.85"/><circle cx="934.4" cy="316.6" r="3.85"/><circle cx="934.4" cy="317.6" r="3.85"/><circle cx="934.4" cy="318.6" r="3.85"/><circle cx="934.4" cy="319.5" r="3.85"/><circle cx="934.4" cy="320.1" r="3.85"/><circle cx="934.4" cy="321" r="3.85"/><circle cx="934.4" cy="321.5" r="3.85"/><circle cx="934.4" cy="322.8" r="3.85"/><circle cx="934.4" cy="323.7" r="3.85"/><circle cx="934.4" cy="324.8" r="3.85"/><circle cx="934.4" cy="326" r="3.85"/><circle cx="934.4" cy="327.1" r="3.85"/><circle cx="934.4" cy="327.7" r="3.85"/><circle cx="934.4" cy="329.5" r="3.85"/><circle cx="934.4" cy="330.1" r="3.85"/><circle cx="934.4" cy="331.6" r="3.85"/><circle cx="934.4" cy="331.9" r="3.85"/><circle cx="934.4" cy="333.6" r="3.85"/><circle cx="934.4" cy="334.1" r="3.85"/><circle cx="934.4" cy="335" r="3.85"/><circle cx="934.4" cy="336.2" r="3.85"/><circle cx="934.4" cy="337.4" r="3.85"/><circle cx="934.4" cy="338" r="3.85"/><circle cx="934.4" cy="339.6" r="3.85"/><circle cx="934.4" cy="340.7" r="3.85"/><circle cx="934.4" cy="342" r="3.85"/><circle cx="934.4" cy="342.8" r="3.85"/><circle cx="934.4" cy="344.1" r="3.85"/><circle cx="934.4" cy="345.2" r="3.85"/><circle cx="934.4" cy="346.4" r="3.85"/><circle cx="934.4" cy="347.1" r="3.85"/><circle cx="934.4" cy="348.1" r="3.85"/><circle cx="934.4" cy="348.8" r="3.85"/><circle cx="934.4" cy="349.7" r="3.85"/><circle cx="934.4" cy="350.7" r="3.85"/><circle cx="934.4" cy="351.5" r="3.85"/><circle cx="934.4" cy="353" r="3.85"/><circle cx="934.4" cy="354.2" r="3.85"/><circle cx="934.4" cy="355.2" r="3.85"/><circle cx="934.4" cy="356.5" r="3.85"/><circle cx="934.4" cy="357.1" r="3.85"/><circle cx="934.4" cy="357.7" r="3.85"/><circle cx="934.4" cy="359.2" r="3.85"/><circle cx="934.4" cy="360.2" r="3.85"/><circle cx="934.4" cy="361.6" r="3.85"/><circle cx="934.4" cy="362.8" r="3.85"/><circle cx="934.4" cy="363.5" r="3.85"/><circle cx="934.4" cy="364.3" r="3.85"/><circle cx="934.4" cy="365.5" r="3.85"/><circle cx="934.4" cy="366.6" r="3.85"/><circle cx="934.4" cy="367.5" r="3.85"/><circle cx="934.4" cy="368.6" r="3.85"/><circle cx="934.4" cy="369.9" r="3.85"/><circle cx="934.4" cy="370.8" r="3.85"/><circle cx="934.4" cy="371.5" r="3.85"/><circle cx="934.4" cy="372.4" r="3.85"/><circle cx="934.4" cy="373.8" r="3.85"/><circle cx="934.4" cy="374.7" r="3.85"/><circle cx="934.4" cy="375.6" r="3.85"/><circle cx="934.4" cy="376.9" r="3.85"/><circle cx="934.4" cy="377.6" r="3.85"/><circle cx="934.4" cy="379.3" r="3.85"/><circle cx="934.4" cy="379.7" r="3.85"/><circle cx="934.4" cy="380.6" r="3.85"/><circle cx="934.4" cy="382.1" r="3.85"/><circle cx="934.4" cy="382.9" r="3.85"/><circle cx="934.4" cy="384.3" r="3.85"/><circle cx="934.4" cy="385.1" r="3.85"/><circle cx="934.4" cy="386.2" r="3.85"/><circle cx="934.4" cy="387.3" r="3.85"/><circle cx="934.4" cy="388.1" r="3.85"/><circle cx="934.4" cy="389.2" r="3.85"/><circle cx="934.4" cy="389.6" r="3.85"/><circle cx="934.4" cy="390.7" r="3.85"/><circle cx="934.4" cy="391.9" r="3.85"/><circle cx="934.4" cy="392.9" r="3.85"/><circle cx="934.4" cy="393.9" r="3.85"/><circle cx="934.4" cy="394.6" r="3.85"/><circle cx="934.4" cy="395.5" r="3.85"/><circle cx="934.4" cy="400.5" r="3.85"/><circle cx="934.4" cy="403.9" r="3.85"/><circle cx="934.4" cy="408.2" r="3.85"/><circle cx="934.4" cy="413.8" r="3.85"/><circle cx="934.4" cy="418.5" r="3.85"/><circle cx="934.4" cy="419.9" r="3.85"/><circle cx="934.4" cy="425.6" r="3.85"/><circle cx="934.4" cy="431.8" r="3.85"/><circle cx="934.4" cy="434.3" r="3.85"/><circle cx="934.4" cy="438.4" r="3.85"/><circle cx="934.4" cy="440.5" r="3.85"/><circle cx="934.4" cy="443.3" r="3.85"/><circle cx="934.4" cy="448.2" r="3.85"/><circle cx="934.4" cy="453.3" r="3.85"/><circle cx="934.4" cy="458.4" r="3.85"/></g>
<line class="dl" x1="762" y1="253.5" x2="934.4" y2="284.5"/>
<path class="eb" d="M745 235H779M762 235V271.8M745 271.8H779"/><path class="eb" d="M917.4 266.2H951.4M934.4 266.2V303.2M917.4 303.2H951.4"/>
<line class="ax" x1="653.7" x2="659.7" y1="102.8" y2="102.8"/><text class="tk" letter-spacing=".35" text-anchor="end" x="650.3" y="108.5">800</text><line class="ax" x1="653.7" x2="659.7" y1="259.5" y2="259.5"/><text class="tk" letter-spacing=".35" text-anchor="end" x="650.3" y="265.2">600</text><line class="ax" x1="653.7" x2="659.7" y1="418.4" y2="418.4"/><text class="tk" letter-spacing=".35" text-anchor="end" x="650.3" y="424.1">400</text>
<line class="ax" x1="762" x2="762" y1="530.8" y2="537"/><text class="tk" letter-spacing=".5" text-anchor="middle" x="762" y="552.7">NoTob</text><line class="ax" x1="934.4" x2="934.4" y1="530.8" y2="537"/><text class="tk" letter-spacing=".5" text-anchor="middle" x="934.4" y="552.7">Tob</text>
<text class="tt" text-anchor="middle" x="848.4" y="575.5">Prenatal Tobacco Exposure</text>
<text class="ty" text-anchor="middle" transform="translate(613.2 267.4) rotate(-90)">Accumbens Volume (mm^3)</text>
<text class="tt" x="1065.7" y="235.7">PTE group</text>
<rect x="1066.3" y="249.3" width="33.3" height="62.1" fill="#F2F2F2"/>
<circle class="r" stroke-opacity=".78" cx="1083" cy="264.2" r="3.85"/><text class="lg" letter-spacing=".85" x="1108" y="270.3">NoTob</text>
<circle class="t" stroke-opacity=".78" cx="1083" cy="296.3" r="3.85"/><text class="lg" letter-spacing=".85" x="1108" y="302.4">Tob</text>
</g>
<g>
<rect x="82" y="599.6" width="325" height="524.9" fill="#EBEBEB"/>
<line class="gm" x1="82" x2="407" y1="689" y2="689"/><line class="gm" x1="82" x2="407" y1="804.2" y2="804.2"/><line class="gm" x1="82" x2="407" y1="919.5" y2="919.5"/><line class="gm" x1="82" x2="407" y1="1036" y2="1036"/>
<line class="gM" x1="82" x2="407" y1="631" y2="631"/><line class="gM" x1="82" x2="407" y1="746.3" y2="746.3"/><line class="gM" x1="82" x2="407" y1="861.8" y2="861.8"/><line class="gM" x1="82" x2="407" y1="977.5" y2="977.5"/><line class="gM" x1="82" x2="407" y1="1093.5" y2="1093.5"/><line class="gM" x1="170" x2="170" y1="599.6" y2="1124.5"/><line class="gM" x1="319.2" x2="319.2" y1="599.6" y2="1124.5"/>
<g class="r"><circle cx="170" cy="707.5" r="3.85"/><circle cx="170" cy="739.2" r="3.85"/><circle cx="170" cy="739.9" r="3.85"/><circle cx="170" cy="751.2" r="3.85"/><circle cx="170" cy="757.5" r="3.85"/><circle cx="170" cy="761" r="3.85"/><circle cx="170" cy="766" r="3.85"/><circle cx="170" cy="783.7" r="3.85"/><circle cx="170" cy="791" r="3.85"/><circle cx="170" cy="798.7" r="3.85"/><circle cx="170" cy="807.5" r="3.85"/><circle cx="170" cy="818.7" r="3.85"/><circle cx="170" cy="826.6" r="3.85"/><circle cx="170" cy="830.1" r="3.85"/><circle cx="170" cy="831.6" r="3.85"/><circle cx="170" cy="838" r="3.85"/><circle cx="170" cy="842.8" r="3.85"/><circle cx="170" cy="845.6" r="3.85"/><circle cx="170" cy="849.6" r="3.85"/><circle cx="170" cy="853.9" r="3.85"/><circle cx="170" cy="860.1" r="3.85"/><circle cx="170" cy="861.2" r="3.85"/><circle cx="170" cy="867.7" r="3.85"/><circle cx="170" cy="869.5" r="3.85"/><circle cx="170" cy="873.5" r="3.85"/><circle cx="170" cy="880" r="3.85"/><circle cx="170" cy="882.3" r="3.85"/><circle cx="170" cy="886" r="3.85"/><circle cx="170" cy="889" r="3.85"/><circle cx="170" cy="893.5" r="3.85"/><circle cx="170" cy="897.7" r="3.85"/><circle cx="170" cy="900.4" r="3.85"/><circle cx="170" cy="905.6" r="3.85"/><circle cx="170" cy="908.6" r="3.85"/><circle cx="170" cy="910.5" r="3.85"/><circle cx="170" cy="916.2" r="3.85"/><circle cx="170" cy="919.3" r="3.85"/><circle cx="170" cy="933" r="3.85"/><circle cx="170" cy="933.6" r="3.85"/><circle cx="170" cy="945.5" r="3.85"/><circle cx="170" cy="964.7" r="3.85"/><circle cx="170" cy="965.4" r="3.85"/><circle cx="170" cy="977.5" r="3.85"/></g>
<g class="t"><circle cx="319.2" cy="623" r="3.85"/><circle cx="319.2" cy="670.5" r="3.85"/><circle cx="319.2" cy="702.5" r="3.85"/><circle cx="319.2" cy="706" r="3.85"/><circle cx="319.2" cy="715" r="3.85"/><circle cx="319.2" cy="722.2" r="3.85"/><circle cx="319.2" cy="722.9" r="3.85"/><circle cx="319.2" cy="727.8" r="3.85"/><circle cx="319.2" cy="730" r="3.85"/><circle cx="319.2" cy="731.8" r="3.85"/><circle cx="319.2" cy="734.6" r="3.85"/><circle cx="319.2" cy="735.1" r="3.85"/><circle cx="319.2" cy="736.4" r="3.85"/><circle cx="319.2" cy="736.7" r="3.85"/><circle cx="319.2" cy="737.9" r="3.85"/><circle cx="319.2" cy="739.2" r="3.85"/><circle cx="319.2" cy="739.9" r="3.85"/><circle cx="319.2" cy="741.6" r="3.85"/><circle cx="319.2" cy="742.6" r="3.85"/><circle cx="319.2" cy="743.7" r="3.85"/><circle cx="319.2" cy="744.7" r="3.85"/><circle cx="319.2" cy="745.7" r="3.85"/><circle cx="319.2" cy="746.6" r="3.85"/><circle cx="319.2" cy="747.5" r="3.85"/><circle cx="319.2" cy="749.2" r="3.85"/><circle cx="319.2" cy="749.8" r="3.85"/><circle cx="319.2" cy="750.8" r="3.85"/><circle cx="319.2" cy="751.5" r="3.85"/><circle cx="319.2" cy="753" r="3.85"/><circle cx="319.2" cy="753.5" r="3.85"/><circle cx="319.2" cy="755.1" r="3.85"/><circle cx="319.2" cy="755.9" r="3.85"/><circle cx="319.2" cy="757.3" r="3.85"/><circle cx="319.2" cy="758" r="3.85"/><circle cx="319.2" cy="758.8" r="3.85"/><circle cx="319.2" cy="759.7" r="3.85"/><circle cx="319.2" cy="760.9" r="3.85"/><circle cx="319.2" cy="762" r="3.85"/><circle cx="319.2" cy="762.8" r="3.85"/><circle cx="319.2" cy="764.2" r="3.85"/><circle cx="319.2" cy="764.5" r="3.85"/><circle cx="319.2" cy="766" r="3.85"/><circle cx="319.2" cy="766.7" r="3.85"/><circle cx="319.2" cy="767.6" r="3.85"/><circle cx="319.2" cy="768" r="3.85"/><circle cx="319.2" cy="769.8" r="3.85"/><circle cx="319.2" cy="770.6" r="3.85"/><circle cx="319.2" cy="771.6" r="3.85"/><circle cx="319.2" cy="772.7" r="3.85"/><circle cx="319.2" cy="773.8" r="3.85"/><circle cx="319.2" cy="774.6" r="3.85"/><circle cx="319.2" cy="775.3" r="3.85"/><circle cx="319.2" cy="776.1" r="3.85"/><circle cx="319.2" cy="777.2" r="3.85"/><circle cx="319.2" cy="778.3" r="3.85"/><circle cx="319.2" cy="779.9" r="3.85"/><circle cx="319.2" cy="780.4" r="3.85"/><circle cx="319.2" cy="781" r="3.85"/><circle cx="319.2" cy="782.4" r="3.85"/><circle cx="319.2" cy="783.7" r="3.85"/><circle cx="319.2" cy="784.9" r="3.85"/><circle cx="319.2" cy="785.7" r="3.85"/><circle cx="319.2" cy="786.9" r="3.85"/><circle cx="319.2" cy="787.6" r="3.85"/><circle cx="319.2" cy="788.4" r="3.85"/><circle cx="319.2" cy="789.8" r="3.85"/><circle cx="319.2" cy="791" r="3.85"/><circle cx="319.2" cy="791.7" r="3.85"/><circle cx="319.2" cy="792.7" r="3.85"/><circle cx="319.2" cy="793.5" r="3.85"/><circle cx="319.2" cy="794.8" r="3.85"/><circle cx="319.2" cy="796" r="3.85"/><circle cx="319.2" cy="796.8" r="3.85"/><circle cx="319.2" cy="797.6" r="3.85"/><circle cx="319.2" cy="798.6" r="3.85"/><circle cx="319.2" cy="799.6" r="3.85"/><circle cx="319.2" cy="800.3" r="3.85"/><circle cx="319.2" cy="801.4" r="3.85"/><circle cx="319.2" cy="802.2" r="3.85"/><circle cx="319.2" cy="802.6" r="3.85"/><circle cx="319.2" cy="803.9" r="3.85"/><circle cx="319.2" cy="805.6" r="3.85"/><circle cx="319.2" cy="806.3" r="3.85"/><circle cx="319.2" cy="807.2" r="3.85"/><circle cx="319.2" cy="808.9" r="3.85"/><circle cx="319.2" cy="809.7" r="3.85"/><circle cx="319.2" cy="810.9" r="3.85"/><circle cx="319.2" cy="811.8" r="3.85"/><circle cx="319.2" cy="812.3" r="3.85"/><circle cx="319.2" cy="813.4" r="3.85"/><circle cx="319.2" cy="814.1" r="3.85"/><circle cx="319.2" cy="815.3" r="3.85"/><circle cx="319.2" cy="816.2" r="3.85"/><circle cx="319.2" cy="817.6" r="3.85"/><circle cx="319.2" cy="818" r="3.85"/><circle cx="319.2" cy="819.1" r="3.85"/><circle cx="319.2" cy="820.2" r="3.85"/><circle cx="319.2" cy="821.4" r="3.85"/><circle cx="319.2" cy="823" r="3.85"/><circle cx="319.2" cy="823.7" r="3.85"/><circle cx="319.2" cy="824.5" r="3.85"/><circle cx="319.2" cy="825.4" r="3.85"/><circle cx="319.2" cy="827.1" r="3.85"/><circle cx="319.2" cy="827.7" r="3.85"/><circle cx="319.2" cy="829.1" r="3.85"/><circle cx="319.2" cy="829.8" r="3.85"/><circle cx="319.2" cy="830.8" r="3.85"/><circle cx="319.2" cy="831.5" r="3.85"/><circle cx="319.2" cy="831.9" r="3.85"/><circle cx="319.2" cy="833.2" r="3.85"/><circle cx="319.2" cy="833.7" r="3.85"/><circle cx="319.2" cy="835.2" r="3.85"/><circle cx="319.2" cy="835.8" r="3.85"/><circle cx="319.2" cy="836.4" r="3.85"/><circle cx="319.2" cy="837.9" r="3.85"/><circle cx="319.2" cy="838.3" r="3.85"/><circle cx="319.2" cy="839.5" r="3.85"/><circle cx="319.2" cy="840.2" r="3.85"/><circle cx="319.2" cy="841.3" r="3.85"/><circle cx="319.2" cy="842.5" r="3.85"/><circle cx="319.2" cy="843.2" r="3.85"/><circle cx="319.2" cy="844.3" r="3.85"/><circle cx="319.2" cy="845.3" r="3.85"/><circle cx="319.2" cy="846.1" r="3.85"/><circle cx="319.2" cy="847" r="3.85"/><circle cx="319.2" cy="848" r="3.85"/><circle cx="319.2" cy="849" r="3.85"/><circle cx="319.2" cy="850" r="3.85"/><circle cx="319.2" cy="850.4" r="3.85"/><circle cx="319.2" cy="851.7" r="3.85"/><circle cx="319.2" cy="852.5" r="3.85"/><circle cx="319.2" cy="853.3" r="3.85"/><circle cx="319.2" cy="854.6" r="3.85"/><circle cx="319.2" cy="855.4" r="3.85"/><circle cx="319.2" cy="857" r="3.85"/><circle cx="319.2" cy="857.8" r="3.85"/><circle cx="319.2" cy="859" r="3.85"/><circle cx="319.2" cy="859.9" r="3.85"/><circle cx="319.2" cy="861.7" r="3.85"/><circle cx="319.2" cy="862.4" r="3.85"/><circle cx="319.2" cy="863.4" r="3.85"/><circle cx="319.2" cy="864.5" r="3.85"/><circle cx="319.2" cy="864.8" r="3.85"/><circle cx="319.2" cy="865.6" r="3.85"/><circle cx="319.2" cy="866.7" r="3.85"/><circle cx="319.2" cy="867.9" r="3.85"/><circle cx="319.2" cy="868.3" r="3.85"/><circle cx="319.2" cy="869.7" r="3.85"/><circle cx="319.2" cy="870.8" r="3.85"/><circle cx="319.2" cy="871.7" r="3.85"/><circle cx="319.2" cy="872.3" r="3.85"/><circle cx="319.2" cy="873.4" r="3.85"/><circle cx="319.2" cy="874.3" r="3.85"/><circle cx="319.2" cy="875.2" r="3.85"/><circle cx="319.2" cy="876.1" r="3.85"/><circle cx="319.2" cy="877" r="3.85"/><circle cx="319.2" cy="878.4" r="3.85"/><circle cx="319.2" cy="879.3" r="3.85"/><circle cx="319.2" cy="880.2" r="3.85"/><circle cx="319.2" cy="881.5" r="3.85"/><circle cx="319.2" cy="882.2" r="3.85"/><circle cx="319.2" cy="883.7" r="3.85"/><circle cx="319.2" cy="884.2" r="3.85"/><circle cx="319.2" cy="885.3" r="3.85"/><circle cx="319.2" cy="886.8" r="3.85"/><circle cx="319.2" cy="888" r="3.85"/><circle cx="319.2" cy="888.6" r="3.85"/><circle cx="319.2" cy="890.3" r="3.85"/><circle cx="319.2" cy="891" r="3.85"/><circle cx="319.2" cy="892.2" r="3.85"/><circle cx="319.2" cy="893.1" r="3.85"/><circle cx="319.2" cy="893.8" r="3.85"/><circle cx="319.2" cy="894.5" r="3.85"/><circle cx="319.2" cy="896" r="3.85"/><circle cx="319.2" cy="897.1" r="3.85"/><circle cx="319.2" cy="898.1" r="3.85"/><circle cx="319.2" cy="899.4" r="3.85"/><circle cx="319.2" cy="899.9" r="3.85"/><circle cx="319.2" cy="900.9" r="3.85"/><circle cx="319.2" cy="901.6" r="3.85"/><circle cx="319.2" cy="902.9" r="3.85"/><circle cx="319.2" cy="903.7" r="3.85"/><circle cx="319.2" cy="905" r="3.85"/><circle cx="319.2" cy="905.4" r="3.85"/><circle cx="319.2" cy="906.4" r="3.85"/><circle cx="319.2" cy="908" r="3.85"/><circle cx="319.2" cy="908.5" r="3.85"/><circle cx="319.2" cy="909.7" r="3.85"/><circle cx="319.2" cy="910.2" r="3.85"/><circle cx="319.2" cy="911.2" r="3.85"/><circle cx="319.2" cy="912.1" r="3.85"/><circle cx="319.2" cy="912.9" r="3.85"/><circle cx="319.2" cy="914.4" r="3.85"/><circle cx="319.2" cy="915.3" r="3.85"/><circle cx="319.2" cy="916.1" r="3.85"/><circle cx="319.2" cy="917.4" r="3.85"/><circle cx="319.2" cy="918.5" r="3.85"/><circle cx="319.2" cy="919.3" r="3.85"/><circle cx="319.2" cy="920.1" r="3.85"/><circle cx="319.2" cy="921.2" r="3.85"/><circle cx="319.2" cy="922" r="3.85"/><circle cx="319.2" cy="923.5" r="3.85"/><circle cx="319.2" cy="924.2" r="3.85"/><circle cx="319.2" cy="925" r="3.85"/><circle cx="319.2" cy="926.2" r="3.85"/><circle cx="319.2" cy="927.3" r="3.85"/><circle cx="319.2" cy="928.5" r="3.85"/><circle cx="319.2" cy="928.9" r="3.85"/><circle cx="319.2" cy="930.2" r="3.85"/><circle cx="319.2" cy="931" r="3.85"/><circle cx="319.2" cy="932.5" r="3.85"/><circle cx="319.2" cy="933.1" r="3.85"/><circle cx="319.2" cy="934.1" r="3.85"/><circle cx="319.2" cy="935.4" r="3.85"/><circle cx="319.2" cy="936.7" r="3.85"/><circle cx="319.2" cy="937.7" r="3.85"/><circle cx="319.2" cy="938.8" r="3.85"/><circle cx="319.2" cy="939.8" r="3.85"/><circle cx="319.2" cy="941" r="3.85"/><circle cx="319.2" cy="941.8" r="3.85"/><circle cx="319.2" cy="942.5" r="3.85"/><circle cx="319.2" cy="943.3" r="3.85"/><circle cx="319.2" cy="944.6" r="3.85"/><circle cx="319.2" cy="945.7" r="3.85"/><circle cx="319.2" cy="946.8" r="3.85"/><circle cx="319.2" cy="947.6" r="3.85"/><circle cx="319.2" cy="948.8" r="3.85"/><circle cx="319.2" cy="949.4" r="3.85"/><circle cx="319.2" cy="950.4" r="3.85"/><circle cx="319.2" cy="951.6" r="3.85"/><circle cx="319.2" cy="952.6" r="3.85"/><circle cx="319.2" cy="953.4" r="3.85"/><circle cx="319.2" cy="954.2" r="3.85"/><circle cx="319.2" cy="955.2" r="3.85"/><circle cx="319.2" cy="958.5" r="3.85"/><circle cx="319.2" cy="961.2" r="3.85"/><circle cx="319.2" cy="965.2" r="3.85"/><circle cx="319.2" cy="966.8" r="3.85"/><circle cx="319.2" cy="969.7" r="3.85"/><circle cx="319.2" cy="973.4" r="3.85"/><circle cx="319.2" cy="977.4" r="3.85"/><circle cx="319.2" cy="980.2" r="3.85"/><circle cx="319.2" cy="983.7" r="3.85"/><circle cx="319.2" cy="999.2" r="3.85"/><circle cx="319.2" cy="999.9" r="3.85"/><circle cx="319.2" cy="1011" r="3.85"/><circle cx="319.2" cy="1014" r="3.85"/><circle cx="319.2" cy="1017" r="3.85"/><circle cx="319.2" cy="1030" r="3.85"/><circle cx="319.2" cy="1034" r="3.85"/><circle cx="319.2" cy="1038.7" r="3.85"/><circle cx="319.2" cy="1052" r="3.85"/><circle cx="319.2" cy="1101.2" r="3.85"/></g>
<line class="dl" x1="170" y1="851.2" x2="319.2" y2="868.7"/>
<path class="eb" d="M155.5 826.2H184.5M170 826.2V875M155.5 875H184.5"/><path class="eb" d="M304.7 844.5H333.7M319.2 844.5V893.2M304.7 893.2H333.7"/>
<line class="ax" x1="76" x2="82" y1="631" y2="631"/><text class="tk" letter-spacing=".35" text-anchor="end" x="71.7" y="636.7">35000</text><line class="ax" x1="76" x2="82" y1="746.3" y2="746.3"/><text class="tk" letter-spacing=".35" text-anchor="end" x="71.7" y="752">30000</text><line class="ax" x1="76" x2="82" y1="861.8" y2="861.8"/><text class="tk" letter-spacing=".35" text-anchor="end" x="71.7" y="867.5">25000</text><line class="ax" x1="76" x2="82" y1="977.5" y2="977.5"/><text class="tk" letter-spacing=".35" text-anchor="end" x="71.7" y="983.2">20000</text><line class="ax" x1="76" x2="82" y1="1093.5" y2="1093.5"/><text class="tk" letter-spacing=".35" text-anchor="end" x="71.7" y="1099.2">15000</text>
<line class="ax" x1="170" x2="170" y1="1124.9" y2="1131.1"/><text class="tk" letter-spacing=".5" text-anchor="middle" x="170" y="1148.1">No</text><line class="ax" x1="319.2" x2="319.2" y1="1124.9" y2="1131.1"/><text class="tk" letter-spacing=".5" text-anchor="middle" x="319.2" y="1148.1">Yes</text>
<text class="tt" text-anchor="middle" x="244.5" y="1172">Phone Access</text>
<text class="ty" text-anchor="middle" transform="translate(16.5 863) rotate(-90)">Superior Frontal Volume (mm^3)</text>
<text class="tt" x="436.2" y="832">Phone Access</text>
<rect x="438" y="846.3" width="31.5" height="62" fill="#F2F2F2"/>
<circle class="r" stroke-opacity=".78" cx="453.8" cy="861.2" r="3.85"/><text class="lg" letter-spacing=".85" x="478.8" y="867.3">No</text>
<circle class="t" stroke-opacity=".78" cx="453.8" cy="893.2" r="3.85"/><text class="lg" letter-spacing=".85" x="478.8" y="899.3">Yes</text>
</g>
<g>
<rect x="669" y="599.6" width="334.2" height="524.9" fill="#EBEBEB"/>
<line class="gm" x1="669" x2="1003.2" y1="657.2" y2="657.2"/><line class="gm" x1="669" x2="1003.2" y1="802" y2="802"/><line class="gm" x1="669" x2="1003.2" y1="946.8" y2="946.8"/><line class="gm" x1="669" x2="1003.2" y1="1091.5" y2="1091.5"/>
<line class="gM" x1="669" x2="1003.2" y1="729.6" y2="729.6"/><line class="gM" x1="669" x2="1003.2" y1="874.4" y2="874.4"/><line class="gM" x1="669" x2="1003.2" y1="1019.2" y2="1019.2"/><line class="gM" x1="760" x2="760" y1="599.6" y2="1124.5"/><line class="gM" x1="913.2" x2="913.2" y1="599.6" y2="1124.5"/>
<g class="r"><circle cx="760" cy="623.7" r="3.85"/><circle cx="760" cy="634.5" r="3.85"/><circle cx="760" cy="666.7" r="3.85"/><circle cx="760" cy="678.2" r="3.85"/><circle cx="760" cy="699.5" r="3.85"/><circle cx="760" cy="704.5" r="3.85"/><circle cx="760" cy="718.2" r="3.85"/><circle cx="760" cy="727.5" r="3.85"/><circle cx="760" cy="730.9" r="3.85"/><circle cx="760" cy="733.1" r="3.85"/><circle cx="760" cy="736.2" r="3.85"/><circle cx="760" cy="740.5" r="3.85"/><circle cx="760" cy="742.4" r="3.85"/><circle cx="760" cy="745.8" r="3.85"/><circle cx="760" cy="749.3" r="3.85"/><circle cx="760" cy="753.7" r="3.85"/><circle cx="760" cy="755.5" r="3.85"/><circle cx="760" cy="759.9" r="3.85"/><circle cx="760" cy="773.7" r="3.85"/><circle cx="760" cy="779.1" r="3.85"/><circle cx="760" cy="782" r="3.85"/><circle cx="760" cy="786.7" r="3.85"/><circle cx="760" cy="789.4" r="3.85"/><circle cx="760" cy="792.8" r="3.85"/><circle cx="760" cy="796.1" r="3.85"/><circle cx="760" cy="800.3" r="3.85"/><circle cx="760" cy="801.7" r="3.85"/><circle cx="760" cy="805.4" r="3.85"/><circle cx="760" cy="807.8" r="3.85"/><circle cx="760" cy="811.5" r="3.85"/><circle cx="760" cy="814.3" r="3.85"/><circle cx="760" cy="818.9" r="3.85"/><circle cx="760" cy="820.9" r="3.85"/><circle cx="760" cy="824.3" r="3.85"/><circle cx="760" cy="827.1" r="3.85"/><circle cx="760" cy="831.9" r="3.85"/><circle cx="760" cy="843" r="3.85"/><circle cx="760" cy="845.9" r="3.85"/><circle cx="760" cy="849.3" r="3.85"/><circle cx="760" cy="854.4" r="3.85"/><circle cx="760" cy="859.5" r="3.85"/><circle cx="760" cy="862.1" r="3.85"/><circle cx="760" cy="867.1" r="3.85"/><circle cx="760" cy="868.5" r="3.85"/><circle cx="760" cy="873" r="3.85"/><circle cx="760" cy="877.9" r="3.85"/><circle cx="760" cy="881" r="3.85"/><circle cx="760" cy="886" r="3.85"/><circle cx="760" cy="889.5" r="3.85"/><circle cx="760" cy="891.7" r="3.85"/><circle cx="760" cy="895" r="3.85"/><circle cx="760" cy="901.2" r="3.85"/><circle cx="760" cy="913" r="3.85"/><circle cx="760" cy="929.5" r="3.85"/><circle cx="760" cy="962.5" r="3.85"/><circle cx="760" cy="977.5" r="3.85"/></g>
<g class="t"><circle cx="913.2" cy="646.5" r="3.85"/><circle cx="913.2" cy="648.5" r="3.85"/><circle cx="913.2" cy="650.5" r="3.85"/><circle cx="913.2" cy="652.5" r="3.85"/><circle cx="913.2" cy="654.5" r="3.85"/><circle cx="913.2" cy="656.5" r="3.85"/><circle cx="913.2" cy="673.5" r="3.85"/><circle cx="913.2" cy="677" r="3.85"/><circle cx="913.2" cy="680.5" r="3.85"/><circle cx="913.2" cy="699.4" r="3.85"/><circle cx="913.2" cy="700.9" r="3.85"/><circle cx="913.2" cy="704.3" r="3.85"/><circle cx="913.2" cy="706" r="3.85"/><circle cx="913.2" cy="706.9" r="3.85"/><circle cx="913.2" cy="708.1" r="3.85"/><circle cx="913.2" cy="708.9" r="3.85"/><circle cx="913.2" cy="710.4" r="3.85"/><circle cx="913.2" cy="711.2" r="3.85"/><circle cx="913.2" cy="712.3" r="3.85"/><circle cx="913.2" cy="713.4" r="3.85"/><circle cx="913.2" cy="714.7" r="3.85"/><circle cx="913.2" cy="715.2" r="3.85"/><circle cx="913.2" cy="716.5" r="3.85"/><circle cx="913.2" cy="717.5" r="3.85"/><circle cx="913.2" cy="718.4" r="3.85"/><circle cx="913.2" cy="719.7" r="3.85"/><circle cx="913.2" cy="720.3" r="3.85"/><circle cx="913.2" cy="721.1" r="3.85"/><circle cx="913.2" cy="722" r="3.85"/><circle cx="913.2" cy="722.5" r="3.85"/><circle cx="913.2" cy="723.9" r="3.85"/><circle cx="913.2" cy="724.6" r="3.85"/><circle cx="913.2" cy="725.6" r="3.85"/><circle cx="913.2" cy="726.6" r="3.85"/><circle cx="913.2" cy="727.2" r="3.85"/><circle cx="913.2" cy="728.2" r="3.85"/><circle cx="913.2" cy="729.7" r="3.85"/><circle cx="913.2" cy="730.2" r="3.85"/><circle cx="913.2" cy="731.6" r="3.85"/><circle cx="913.2" cy="732.1" r="3.85"/><circle cx="913.2" cy="733.3" r="3.85"/><circle cx="913.2" cy="734.4" r="3.85"/><circle cx="913.2" cy="735.8" r="3.85"/><circle cx="913.2" cy="736.6" r="3.85"/><circle cx="913.2" cy="737.6" r="3.85"/><circle cx="913.2" cy="738.6" r="3.85"/><circle cx="913.2" cy="739.3" r="3.85"/><circle cx="913.2" cy="740.3" r="3.85"/><circle cx="913.2" cy="741.4" r="3.85"/><circle cx="913.2" cy="741.9" r="3.85"/><circle cx="913.2" cy="742.8" r="3.85"/><circle cx="913.2" cy="744" r="3.85"/><circle cx="913.2" cy="745.2" r="3.85"/><circle cx="913.2" cy="746" r="3.85"/><circle cx="913.2" cy="746.6" r="3.85"/><circle cx="913.2" cy="747.9" r="3.85"/><circle cx="913.2" cy="748.9" r="3.85"/><circle cx="913.2" cy="750.1" r="3.85"/><circle cx="913.2" cy="751" r="3.85"/><circle cx="913.2" cy="751.8" r="3.85"/><circle cx="913.2" cy="752.5" r="3.85"/><circle cx="913.2" cy="753.8" r="3.85"/><circle cx="913.2" cy="755.2" r="3.85"/><circle cx="913.2" cy="756.3" r="3.85"/><circle cx="913.2" cy="756.9" r="3.85"/><circle cx="913.2" cy="757.7" r="3.85"/><circle cx="913.2" cy="759.3" r="3.85"/><circle cx="913.2" cy="760" r="3.85"/><circle cx="913.2" cy="761.3" r="3.85"/><circle cx="913.2" cy="762.3" r="3.85"/><circle cx="913.2" cy="763.1" r="3.85"/><circle cx="913.2" cy="763.5" r="3.85"/><circle cx="913.2" cy="765.2" r="3.85"/><circle cx="913.2" cy="765.8" r="3.85"/><circle cx="913.2" cy="766.7" r="3.85"/><circle cx="913.2" cy="767.6" r="3.85"/><circle cx="913.2" cy="768.4" r="3.85"/><circle cx="913.2" cy="769.7" r="3.85"/><circle cx="913.2" cy="770.7" r="3.85"/><circle cx="913.2" cy="771.6" r="3.85"/><circle cx="913.2" cy="772.3" r="3.85"/><circle cx="913.2" cy="773.3" r="3.85"/><circle cx="913.2" cy="774.4" r="3.85"/><circle cx="913.2" cy="775.2" r="3.85"/><circle cx="913.2" cy="776.3" r="3.85"/><circle cx="913.2" cy="776.8" r="3.85"/><circle cx="913.2" cy="777.7" r="3.85"/><circle cx="913.2" cy="779" r="3.85"/><circle cx="913.2" cy="780.5" r="3.85"/><circle cx="913.2" cy="781.3" r="3.85"/><circle cx="913.2" cy="782.3" r="3.85"/><circle cx="913.2" cy="783.1" r="3.85"/><circle cx="913.2" cy="784.4" r="3.85"/><circle cx="913.2" cy="785.3" r="3.85"/><circle cx="913.2" cy="786.3" r="3.85"/><circle cx="913.2" cy="787.4" r="3.85"/><circle cx="913.2" cy="788" r="3.85"/><circle cx="913.2" cy="789.3" r="3.85"/><circle cx="913.2" cy="790.7" r="3.85"/><circle cx="913.2" cy="791.4" r="3.85"/><circle cx="913.2" cy="792.1" r="3.85"/><circle cx="913.2" cy="792.9" r="3.85"/><circle cx="913.2" cy="794.5" r="3.85"/><circle cx="913.2" cy="795.2" r="3.85"/><circle cx="913.2" cy="795.8" r="3.85"/><circle cx="913.2" cy="796.9" r="3.85"/><circle cx="913.2" cy="797.7" r="3.85"/><circle cx="913.2" cy="798.8" r="3.85"/><circle cx="913.2" cy="799.6" r="3.85"/><circle cx="913.2" cy="800.6" r="3.85"/><circle cx="913.2" cy="801.9" r="3.85"/><circle cx="913.2" cy="802.4" r="3.85"/><circle cx="913.2" cy="803.5" r="3.85"/><circle cx="913.2" cy="804.6" r="3.85"/><circle cx="913.2" cy="805.9" r="3.85"/><circle cx="913.2" cy="806.8" r="3.85"/><circle cx="913.2" cy="808.2" r="3.85"/><circle cx="913.2" cy="809.3" r="3.85"/><circle cx="913.2" cy="810" r="3.85"/><circle cx="913.2" cy="811.1" r="3.85"/><circle cx="913.2" cy="811.7" r="3.85"/><circle cx="913.2" cy="812.7" r="3.85"/><circle cx="913.2" cy="814" r="3.85"/><circle cx="913.2" cy="814.7" r="3.85"/><circle cx="913.2" cy="815.7" r="3.85"/><circle cx="913.2" cy="816.3" r="3.85"/><circle cx="913.2" cy="817.7" r="3.85"/><circle cx="913.2" cy="818.2" r="3.85"/><circle cx="913.2" cy="820" r="3.85"/><circle cx="913.2" cy="820.4" r="3.85"/><circle cx="913.2" cy="821.6" r="3.85"/><circle cx="913.2" cy="822.5" r="3.85"/><circle cx="913.2" cy="823.5" r="3.85"/><circle cx="913.2" cy="824.4" r="3.85"/><circle cx="913.2" cy="825.6" r="3.85"/><circle cx="913.2" cy="826.2" r="3.85"/><circle cx="913.2" cy="826.9" r="3.85"/><circle cx="913.2" cy="828.6" r="3.85"/><circle cx="913.2" cy="829.1" r="3.85"/><circle cx="913.2" cy="830.6" r="3.85"/><circle cx="913.2" cy="831.3" r="3.85"/><circle cx="913.2" cy="832.9" r="3.85"/><circle cx="913.2" cy="833.7" r="3.85"/><circle cx="913.2" cy="834.9" r="3.85"/><circle cx="913.2" cy="835.5" r="3.85"/><circle cx="913.2" cy="836.5" r="3.85"/><circle cx="913.2" cy="837.6" r="3.85"/><circle cx="913.2" cy="838.6" r="3.85"/><circle cx="913.2" cy="839.8" r="3.85"/><circle cx="913.2" cy="841" r="3.85"/><circle cx="913.2" cy="841.9" r="3.85"/><circle cx="913.2" cy="842.7" r="3.85"/><circle cx="913.2" cy="843.9" r="3.85"/><circle cx="913.2" cy="844.7" r="3.85"/><circle cx="913.2" cy="845.4" r="3.85"/><circle cx="913.2" cy="846.4" r="3.85"/><circle cx="913.2" cy="847.4" r="3.85"/><circle cx="913.2" cy="848.4" r="3.85"/><circle cx="913.2" cy="849.3" r="3.85"/><circle cx="913.2" cy="850.4" r="3.85"/><circle cx="913.2" cy="851" r="3.85"/><circle cx="913.2" cy="852.3" r="3.85"/><circle cx="913.2" cy="853.1" r="3.85"/><circle cx="913.2" cy="854.3" r="3.85"/><circle cx="913.2" cy="855.6" r="3.85"/><circle cx="913.2" cy="856" r="3.85"/><circle cx="913.2" cy="857.2" r="3.85"/><circle cx="913.2" cy="857.9" r="3.85"/><circle cx="913.2" cy="858.8" r="3.85"/><circle cx="913.2" cy="860.2" r="3.85"/><circle cx="913.2" cy="861.3" r="3.85"/><circle cx="913.2" cy="862.6" r="3.85"/><circle cx="913.2" cy="863.6" r="3.85"/><circle cx="913.2" cy="864.3" r="3.85"/><circle cx="913.2" cy="865.1" r="3.85"/><circle cx="913.2" cy="866.5" r="3.85"/><circle cx="913.2" cy="867.3" r="3.85"/><circle cx="913.2" cy="868" r="3.85"/><circle cx="913.2" cy="869" r="3.85"/><circle cx="913.2" cy="870.3" r="3.85"/><circle cx="913.2" cy="870.8" r="3.85"/><circle cx="913.2" cy="872.1" r="3.85"/><circle cx="913.2" cy="873.2" r="3.85"/><circle cx="913.2" cy="874.3" r="3.85"/><circle cx="913.2" cy="874.9" r="3.85"/><circle cx="913.2" cy="876.3" r="3.85"/><circle cx="913.2" cy="876.8" r="3.85"/><circle cx="913.2" cy="878.1" r="3.85"/><circle cx="913.2" cy="879.1" r="3.85"/><circle cx="913.2" cy="879.9" r="3.85"/><circle cx="913.2" cy="880.8" r="3.85"/><circle cx="913.2" cy="881.7" r="3.85"/><circle cx="913.2" cy="883.1" r="3.85"/><circle cx="913.2" cy="883.7" r="3.85"/><circle cx="913.2" cy="884.5" r="3.85"/><circle cx="913.2" cy="885.8" r="3.85"/><circle cx="913.2" cy="887" r="3.85"/><circle cx="913.2" cy="888" r="3.85"/><circle cx="913.2" cy="888.5" r="3.85"/><circle cx="913.2" cy="889.9" r="3.85"/><circle cx="913.2" cy="891.1" r="3.85"/><circle cx="913.2" cy="892" r="3.85"/><circle cx="913.2" cy="892.8" r="3.85"/><circle cx="913.2" cy="893.2" r="3.85"/><circle cx="913.2" cy="894" r="3.85"/><circle cx="913.2" cy="895.2" r="3.85"/><circle cx="913.2" cy="896.4" r="3.85"/><circle cx="913.2" cy="897.5" r="3.85"/><circle cx="913.2" cy="898.6" r="3.85"/><circle cx="913.2" cy="899.6" r="3.85"/><circle cx="913.2" cy="900.3" r="3.85"/><circle cx="913.2" cy="901.6" r="3.85"/><circle cx="913.2" cy="902.9" r="3.85"/><circle cx="913.2" cy="903.7" r="3.85"/><circle cx="913.2" cy="905.1" r="3.85"/><circle cx="913.2" cy="906.3" r="3.85"/><circle cx="913.2" cy="907" r="3.85"/><circle cx="913.2" cy="907.7" r="3.85"/><circle cx="913.2" cy="908.6" r="3.85"/><circle cx="913.2" cy="910.2" r="3.85"/><circle cx="913.2" cy="910.7" r="3.85"/><circle cx="913.2" cy="912.1" r="3.85"/><circle cx="913.2" cy="912.7" r="3.85"/><circle cx="913.2" cy="913.4" r="3.85"/><circle cx="913.2" cy="914.6" r="3.85"/><circle cx="913.2" cy="915.7" r="3.85"/><circle cx="913.2" cy="916.9" r="3.85"/><circle cx="913.2" cy="918.1" r="3.85"/><circle cx="913.2" cy="919" r="3.85"/><circle cx="913.2" cy="920.3" r="3.85"/><circle cx="913.2" cy="920.6" r="3.85"/><circle cx="913.2" cy="921.6" r="3.85"/><circle cx="913.2" cy="923" r="3.85"/><circle cx="913.2" cy="923.3" r="3.85"/><circle cx="913.2" cy="924.8" r="3.85"/><circle cx="913.2" cy="925.6" r="3.85"/><circle cx="913.2" cy="926.7" r="3.85"/><circle cx="913.2" cy="927.7" r="3.85"/><circle cx="913.2" cy="928.1" r="3.85"/><circle cx="913.2" cy="929.2" r="3.85"/><circle cx="913.2" cy="930.6" r="3.85"/><circle cx="913.2" cy="931.1" r="3.85"/><circle cx="913.2" cy="932.9" r="3.85"/><circle cx="913.2" cy="935.7" r="3.85"/><circle cx="913.2" cy="937.5" r="3.85"/><circle cx="913.2" cy="941.1" r="3.85"/><circle cx="913.2" cy="943.5" r="3.85"/><circle cx="913.2" cy="946.1" r="3.85"/><circle cx="913.2" cy="949.7" r="3.85"/><circle cx="913.2" cy="951.4" r="3.85"/><circle cx="913.2" cy="954.1" r="3.85"/><circle cx="913.2" cy="957.6" r="3.85"/><circle cx="913.2" cy="961.9" r="3.85"/><circle cx="913.2" cy="963.2" r="3.85"/><circle cx="913.2" cy="967" r="3.85"/><circle cx="913.2" cy="969.7" r="3.85"/><circle cx="913.2" cy="972.2" r="3.85"/><circle cx="913.2" cy="975.5" r="3.85"/><circle cx="913.2" cy="979.1" r="3.85"/><circle cx="913.2" cy="980.9" r="3.85"/><circle cx="913.2" cy="985" r="3.85"/><circle cx="913.2" cy="1000" r="3.85"/><circle cx="913.2" cy="1008.7" r="3.85"/><circle cx="913.2" cy="1016.2" r="3.85"/><circle cx="913.2" cy="1023.7" r="3.85"/><circle cx="913.2" cy="1037.5" r="3.85"/><circle cx="913.2" cy="1042.5" r="3.85"/><circle cx="913.2" cy="1052.5" r="3.85"/><circle cx="913.2" cy="1056" r="3.85"/><circle cx="913.2" cy="1079.2" r="3.85"/><circle cx="913.2" cy="1100.7" r="3.85"/></g>
<line class="dl" x1="760" y1="806" x2="913.2" y2="835.5"/>
<path class="eb" d="M745 777H775M760 777V833.5M745 833.5H775"/><path class="eb" d="M898.2 808.7H928.2M913.2 808.7V865.5M898.2 865.5H928.2"/>
<line class="ax" x1="663" x2="669" y1="729.6" y2="729.6"/><text class="tk" letter-spacing=".35" text-anchor="end" x="658.6" y="735.3">9000</text><line class="ax" x1="663" x2="669" y1="874.4" y2="874.4"/><text class="tk" letter-spacing=".35" text-anchor="end" x="658.6" y="880.1">7000</text><line class="ax" x1="663" x2="669" y1="1019.2" y2="1019.2"/><text class="tk" letter-spacing=".35" text-anchor="end" x="658.6" y="1024.9">5000</text>
<line class="ax" x1="760" x2="760" y1="1124.9" y2="1131.1"/><text class="tk" letter-spacing=".5" text-anchor="middle" x="760" y="1148.1">No</text><line class="ax" x1="913.2" x2="913.2" y1="1124.9" y2="1131.1"/><text class="tk" letter-spacing=".5" text-anchor="middle" x="913.2" y="1148.1">Yes</text>
<text class="tt" text-anchor="middle" x="836.1" y="1172">Phone Access</text>
<text class="ty" text-anchor="middle" transform="translate(613.2 863) rotate(-90)">Lateral Orbitofrontal Volume (mm^3)</text>
<text class="tt" x="1032.7" y="832">Phone Access</text>
<rect x="1034.5" y="846.3" width="31.7" height="62" fill="#F2F2F2"/>
<circle class="r" stroke-opacity=".78" cx="1050.3" cy="861.2" r="3.85"/><text class="lg" letter-spacing=".85" x="1075.5" y="867.3">No</text>
<circle class="t" stroke-opacity=".78" cx="1050.3" cy="893.2" r="3.85"/><text class="lg" letter-spacing=".85" x="1075.5" y="899.3">Yes</text>
</g>
<g>
<rect x="1265.5" y="599.6" width="334.5" height="524.9" fill="#EBEBEB"/>
<line class="gm" x1="1265.5" x2="1600" y1="686.4" y2="686.4"/><line class="gm" x1="1265.5" x2="1600" y1="836.8" y2="836.8"/><line class="gm" x1="1265.5" x2="1600" y1="987" y2="987"/>
<line class="gM" x1="1265.5" x2="1600" y1="611" y2="611"/><line class="gM" x1="1265.5" x2="1600" y1="761.4" y2="761.4"/><line class="gM" x1="1265.5" x2="1600" y1="911.7" y2="911.7"/><line class="gM" x1="1265.5" x2="1600" y1="1062" y2="1062"/><line class="gM" x1="1358" x2="1358" y1="599.6" y2="1124.5"/><line class="gM" x1="1509.4" x2="1509.4" y1="599.6" y2="1124.5"/>
<g class="r"><circle cx="1358" cy="706.2" r="3.85"/><circle cx="1358" cy="740" r="3.85"/><circle cx="1358" cy="750" r="3.85"/><circle cx="1358" cy="763" r="3.85"/><circle cx="1358" cy="776.5" r="3.85"/><circle cx="1358" cy="792.2" r="3.85"/><circle cx="1358" cy="822.5" r="3.85"/><circle cx="1358" cy="847.3" r="3.85"/><circle cx="1358" cy="849.9" r="3.85"/><circle cx="1358" cy="851.7" r="3.85"/><circle cx="1358" cy="855" r="3.85"/><circle cx="1358" cy="859.1" r="3.85"/><circle cx="1358" cy="861.4" r="3.85"/><circle cx="1358" cy="864.2" r="3.85"/><circle cx="1358" cy="865.9" r="3.85"/><circle cx="1358" cy="870.4" r="3.85"/><circle cx="1358" cy="873.6" r="3.85"/><circle cx="1358" cy="875.5" r="3.85"/><circle cx="1358" cy="878.1" r="3.85"/><circle cx="1358" cy="881.7" r="3.85"/><circle cx="1358" cy="885.2" r="3.85"/><circle cx="1358" cy="887.9" r="3.85"/><circle cx="1358" cy="889.3" r="3.85"/><circle cx="1358" cy="892.9" r="3.85"/><circle cx="1358" cy="895.7" r="3.85"/><circle cx="1358" cy="899.5" r="3.85"/><circle cx="1358" cy="902.5" r="3.85"/><circle cx="1358" cy="907.5" r="3.85"/><circle cx="1358" cy="908.9" r="3.85"/><circle cx="1358" cy="911.1" r="3.85"/><circle cx="1358" cy="915.2" r="3.85"/><circle cx="1358" cy="917.2" r="3.85"/><circle cx="1358" cy="920.4" r="3.85"/><circle cx="1358" cy="924.3" r="3.85"/><circle cx="1358" cy="927.2" r="3.85"/><circle cx="1358" cy="930.8" r="3.85"/><circle cx="1358" cy="933.8" r="3.85"/><circle cx="1358" cy="936.6" r="3.85"/><circle cx="1358" cy="938.9" r="3.85"/><circle cx="1358" cy="946.9" r="3.85"/><circle cx="1358" cy="950.8" r="3.85"/><circle cx="1358" cy="952.3" r="3.85"/><circle cx="1358" cy="957" r="3.85"/><circle cx="1358" cy="960.5" r="3.85"/><circle cx="1358" cy="962.1" r="3.85"/><circle cx="1358" cy="965.5" r="3.85"/><circle cx="1358" cy="969.9" r="3.85"/><circle cx="1358" cy="974" r="3.85"/><circle cx="1358" cy="976.8" r="3.85"/><circle cx="1358" cy="980.6" r="3.85"/><circle cx="1358" cy="984.3" r="3.85"/><circle cx="1358" cy="986.1" r="3.85"/><circle cx="1358" cy="1003" r="3.85"/><circle cx="1358" cy="1008.5" r="3.85"/><circle cx="1358" cy="1015" r="3.85"/><circle cx="1358" cy="1022" r="3.85"/><circle cx="1358" cy="1029" r="3.85"/><circle cx="1358" cy="1036" r="3.85"/><circle cx="1358" cy="1044" r="3.85"/><circle cx="1358" cy="1052" r="3.85"/><circle cx="1358" cy="1089.5" r="3.85"/></g>
<g class="t"><circle cx="1509.4" cy="622.8" r="3.85"/><circle cx="1509.4" cy="642.7" r="3.85"/><circle cx="1509.4" cy="685.9" r="3.85"/><circle cx="1509.4" cy="710.6" r="3.85"/><circle cx="1509.4" cy="735.5" r="3.85"/><circle cx="1509.4" cy="738.5" r="3.85"/><circle cx="1509.4" cy="746" r="3.85"/><circle cx="1509.4" cy="749.5" r="3.85"/><circle cx="1509.4" cy="778.5" r="3.85"/><circle cx="1509.4" cy="779.2" r="3.85"/><circle cx="1509.4" cy="791.2" r="3.85"/><circle cx="1509.4" cy="792.9" r="3.85"/><circle cx="1509.4" cy="796" r="3.85"/><circle cx="1509.4" cy="798.1" r="3.85"/><circle cx="1509.4" cy="800" r="3.85"/><circle cx="1509.4" cy="802.6" r="3.85"/><circle cx="1509.4" cy="805.4" r="3.85"/><circle cx="1509.4" cy="808" r="3.85"/><circle cx="1509.4" cy="810.1" r="3.85"/><circle cx="1509.4" cy="813" r="3.85"/><circle cx="1509.4" cy="815.3" r="3.85"/><circle cx="1509.4" cy="817.8" r="3.85"/><circle cx="1509.4" cy="820.2" r="3.85"/><circle cx="1509.4" cy="822.5" r="3.85"/><circle cx="1509.4" cy="825" r="3.85"/><circle cx="1509.4" cy="828.3" r="3.85"/><circle cx="1509.4" cy="831" r="3.85"/><circle cx="1509.4" cy="832.7" r="3.85"/><circle cx="1509.4" cy="833.4" r="3.85"/><circle cx="1509.4" cy="835.5" r="3.85"/><circle cx="1509.4" cy="838.9" r="3.85"/><circle cx="1509.4" cy="840.8" r="3.85"/><circle cx="1509.4" cy="841.7" r="3.85"/><circle cx="1509.4" cy="842" r="3.85"/><circle cx="1509.4" cy="842.8" r="3.85"/><circle cx="1509.4" cy="844" r="3.85"/><circle cx="1509.4" cy="845" r="3.85"/><circle cx="1509.4" cy="845.8" r="3.85"/><circle cx="1509.4" cy="846.8" r="3.85"/><circle cx="1509.4" cy="847.5" r="3.85"/><circle cx="1509.4" cy="848.5" r="3.85"/><circle cx="1509.4" cy="849.6" r="3.85"/><circle cx="1509.4" cy="850.9" r="3.85"/><circle cx="1509.4" cy="851.9" r="3.85"/><circle cx="1509.4" cy="853.1" r="3.85"/><circle cx="1509.4" cy="854.7" r="3.85"/><circle cx="1509.4" cy="855.3" r="3.85"/><circle cx="1509.4" cy="856.2" r="3.85"/><circle cx="1509.4" cy="857.1" r="3.85"/><circle cx="1509.4" cy="858.3" r="3.85"/><circle cx="1509.4" cy="859.1" r="3.85"/><circle cx="1509.4" cy="860.3" r="3.85"/><circle cx="1509.4" cy="861.3" r="3.85"/><circle cx="1509.4" cy="863" r="3.85"/><circle cx="1509.4" cy="863.8" r="3.85"/><circle cx="1509.4" cy="864.6" r="3.85"/><circle cx="1509.4" cy="865.6" r="3.85"/><circle cx="1509.4" cy="866.6" r="3.85"/><circle cx="1509.4" cy="868" r="3.85"/><circle cx="1509.4" cy="869" r="3.85"/><circle cx="1509.4" cy="869.9" r="3.85"/><circle cx="1509.4" cy="871.2" r="3.85"/><circle cx="1509.4" cy="872.7" r="3.85"/><circle cx="1509.4" cy="873.5" r="3.85"/><circle cx="1509.4" cy="874.4" r="3.85"/><circle cx="1509.4" cy="875" r="3.85"/><circle cx="1509.4" cy="876.2" r="3.85"/><circle cx="1509.4" cy="877.5" r="3.85"/><circle cx="1509.4" cy="878.6" r="3.85"/><circle cx="1509.4" cy="879.8" r="3.85"/><circle cx="1509.4" cy="880.4" r="3.85"/><circle cx="1509.4" cy="881.8" r="3.85"/><circle cx="1509.4" cy="883.2" r="3.85"/><circle cx="1509.4" cy="883.5" r="3.85"/><circle cx="1509.4" cy="884.9" r="3.85"/><circle cx="1509.4" cy="885.6" r="3.85"/><circle cx="1509.4" cy="886.4" r="3.85"/><circle cx="1509.4" cy="886.9" r="3.85"/><circle cx="1509.4" cy="888.4" r="3.85"/><circle cx="1509.4" cy="889.4" r="3.85"/><circle cx="1509.4" cy="890.4" r="3.85"/><circle cx="1509.4" cy="891.4" r="3.85"/><circle cx="1509.4" cy="892.5" r="3.85"/><circle cx="1509.4" cy="893.8" r="3.85"/><circle cx="1509.4" cy="894.5" r="3.85"/><circle cx="1509.4" cy="895.9" r="3.85"/><circle cx="1509.4" cy="896.4" r="3.85"/><circle cx="1509.4" cy="898.1" r="3.85"/><circle cx="1509.4" cy="898.8" r="3.85"/><circle cx="1509.4" cy="899.6" r="3.85"/><circle cx="1509.4" cy="900.2" r="3.85"/><circle cx="1509.4" cy="901.5" r="3.85"/><circle cx="1509.4" cy="902.5" r="3.85"/><circle cx="1509.4" cy="903.5" r="3.85"/><circle cx="1509.4" cy="904.4" r="3.85"/><circle cx="1509.4" cy="905.6" r="3.85"/><circle cx="1509.4" cy="906.9" r="3.85"/><circle cx="1509.4" cy="907.7" r="3.85"/><circle cx="1509.4" cy="908.6" r="3.85"/><circle cx="1509.4" cy="909.8" r="3.85"/><circle cx="1509.4" cy="910.8" r="3.85"/><circle cx="1509.4" cy="912" r="3.85"/><circle cx="1509.4" cy="912.5" r="3.85"/><circle cx="1509.4" cy="913.5" r="3.85"/><circle cx="1509.4" cy="914.6" r="3.85"/><circle cx="1509.4" cy="915.4" r="3.85"/><circle cx="1509.4" cy="916.6" r="3.85"/><circle cx="1509.4" cy="917.8" r="3.85"/><circle cx="1509.4" cy="918.4" r="3.85"/><circle cx="1509.4" cy="919.3" r="3.85"/><circle cx="1509.4" cy="920.1" r="3.85"/><circle cx="1509.4" cy="921.1" r="3.85"/><circle cx="1509.4" cy="922.8" r="3.85"/><circle cx="1509.4" cy="923.7" r="3.85"/><circle cx="1509.4" cy="924.7" r="3.85"/><circle cx="1509.4" cy="926.1" r="3.85"/><circle cx="1509.4" cy="927" r="3.85"/><circle cx="1509.4" cy="927.8" r="3.85"/><circle cx="1509.4" cy="929" r="3.85"/><circle cx="1509.4" cy="929.9" r="3.85"/><circle cx="1509.4" cy="930.6" r="3.85"/><circle cx="1509.4" cy="931.7" r="3.85"/><circle cx="1509.4" cy="933" r="3.85"/><circle cx="1509.4" cy="934.2" r="3.85"/><circle cx="1509.4" cy="935" r="3.85"/><circle cx="1509.4" cy="936.3" r="3.85"/><circle cx="1509.4" cy="937" r="3.85"/><circle cx="1509.4" cy="938.2" r="3.85"/><circle cx="1509.4" cy="938.6" r="3.85"/><circle cx="1509.4" cy="940" r="3.85"/><circle cx="1509.4" cy="941.3" r="3.85"/><circle cx="1509.4" cy="942.6" r="3.85"/><circle cx="1509.4" cy="943" r="3.85"/><circle cx="1509.4" cy="944.5" r="3.85"/><circle cx="1509.4" cy="944.8" r="3.85"/><circle cx="1509.4" cy="945.6" r="3.85"/><circle cx="1509.4" cy="947.1" r="3.85"/><circle cx="1509.4" cy="947.8" r="3.85"/><circle cx="1509.4" cy="948.6" r="3.85"/><circle cx="1509.4" cy="950" r="3.85"/><circle cx="1509.4" cy="950.9" r="3.85"/><circle cx="1509.4" cy="952.2" r="3.85"/><circle cx="1509.4" cy="953" r="3.85"/><circle cx="1509.4" cy="953.8" r="3.85"/><circle cx="1509.4" cy="954.6" r="3.85"/><circle cx="1509.4" cy="955.5" r="3.85"/><circle cx="1509.4" cy="956.1" r="3.85"/><circle cx="1509.4" cy="957.1" r="3.85"/><circle cx="1509.4" cy="958.4" r="3.85"/><circle cx="1509.4" cy="959" r="3.85"/><circle cx="1509.4" cy="960.2" r="3.85"/><circle cx="1509.4" cy="960.9" r="3.85"/><circle cx="1509.4" cy="961.7" r="3.85"/><circle cx="1509.4" cy="963.1" r="3.85"/><circle cx="1509.4" cy="963.9" r="3.85"/><circle cx="1509.4" cy="964.7" r="3.85"/><circle cx="1509.4" cy="965.8" r="3.85"/><circle cx="1509.4" cy="966.5" r="3.85"/><circle cx="1509.4" cy="967.9" r="3.85"/><circle cx="1509.4" cy="968.5" r="3.85"/><circle cx="1509.4" cy="969.9" r="3.85"/><circle cx="1509.4" cy="970.8" r="3.85"/><circle cx="1509.4" cy="971.5" r="3.85"/><circle cx="1509.4" cy="972.5" r="3.85"/><circle cx="1509.4" cy="973.6" r="3.85"/><circle cx="1509.4" cy="974.4" r="3.85"/><circle cx="1509.4" cy="975.6" r="3.85"/><circle cx="1509.4" cy="976.2" r="3.85"/><circle cx="1509.4" cy="977.5" r="3.85"/><circle cx="1509.4" cy="978.8" r="3.85"/><circle cx="1509.4" cy="979.5" r="3.85"/><circle cx="1509.4" cy="980.6" r="3.85"/><circle cx="1509.4" cy="981.7" r="3.85"/><circle cx="1509.4" cy="982.9" r="3.85"/><circle cx="1509.4" cy="983.9" r="3.85"/><circle cx="1509.4" cy="984.8" r="3.85"/><circle cx="1509.4" cy="985.9" r="3.85"/><circle cx="1509.4" cy="986.6" r="3.85"/><circle cx="1509.4" cy="987.4" r="3.85"/><circle cx="1509.4" cy="988.6" r="3.85"/><circle cx="1509.4" cy="989.9" r="3.85"/><circle cx="1509.4" cy="990.4" r="3.85"/><circle cx="1509.4" cy="992" r="3.85"/><circle cx="1509.4" cy="992.5" r="3.85"/><circle cx="1509.4" cy="993.8" r="3.85"/><circle cx="1509.4" cy="995.3" r="3.85"/><circle cx="1509.4" cy="996.4" r="3.85"/><circle cx="1509.4" cy="996.8" r="3.85"/><circle cx="1509.4" cy="997.6" r="3.85"/><circle cx="1509.4" cy="999" r="3.85"/><circle cx="1509.4" cy="999.9" r="3.85"/><circle cx="1509.4" cy="1001.2" r="3.85"/><circle cx="1509.4" cy="1002" r="3.85"/><circle cx="1509.4" cy="1002.6" r="3.85"/><circle cx="1509.4" cy="1004.1" r="3.85"/><circle cx="1509.4" cy="1005.2" r="3.85"/><circle cx="1509.4" cy="1005.7" r="3.85"/><circle cx="1509.4" cy="1006.7" r="3.85"/><circle cx="1509.4" cy="1007.5" r="3.85"/><circle cx="1509.4" cy="1008.6" r="3.85"/><circle cx="1509.4" cy="1009.7" r="3.85"/><circle cx="1509.4" cy="1010.6" r="3.85"/><circle cx="1509.4" cy="1011.1" r="3.85"/><circle cx="1509.4" cy="1012.3" r="3.85"/><circle cx="1509.4" cy="1013.3" r="3.85"/><circle cx="1509.4" cy="1014" r="3.85"/><circle cx="1509.4" cy="1015.2" r="3.85"/><circle cx="1509.4" cy="1016.6" r="3.85"/><circle cx="1509.4" cy="1017.4" r="3.85"/><circle cx="1509.4" cy="1018.6" r="3.85"/><circle cx="1509.4" cy="1019.5" r="3.85"/><circle cx="1509.4" cy="1020.9" r="3.85"/><circle cx="1509.4" cy="1021.9" r="3.85"/><circle cx="1509.4" cy="1022.5" r="3.85"/><circle cx="1509.4" cy="1023.5" r="3.85"/><circle cx="1509.4" cy="1024.5" r="3.85"/><circle cx="1509.4" cy="1025.4" r="3.85"/><circle cx="1509.4" cy="1026.2" r="3.85"/><circle cx="1509.4" cy="1027.4" r="3.85"/><circle cx="1509.4" cy="1028.3" r="3.85"/><circle cx="1509.4" cy="1028.6" r="3.85"/><circle cx="1509.4" cy="1029.9" r="3.85"/><circle cx="1509.4" cy="1030.8" r="3.85"/><circle cx="1509.4" cy="1031.8" r="3.85"/><circle cx="1509.4" cy="1033.3" r="3.85"/><circle cx="1509.4" cy="1033.7" r="3.85"/><circle cx="1509.4" cy="1034.8" r="3.85"/><circle cx="1509.4" cy="1036.1" r="3.85"/><circle cx="1509.4" cy="1037.2" r="3.85"/><circle cx="1509.4" cy="1038.1" r="3.85"/><circle cx="1509.4" cy="1039.2" r="3.85"/><circle cx="1509.4" cy="1040" r="3.85"/><circle cx="1509.4" cy="1040.8" r="3.85"/><circle cx="1509.4" cy="1041.8" r="3.85"/><circle cx="1509.4" cy="1042.5" r="3.85"/><circle cx="1509.4" cy="1043.5" r="3.85"/><circle cx="1509.4" cy="1044.4" r="3.85"/><circle cx="1509.4" cy="1045.9" r="3.85"/><circle cx="1509.4" cy="1046.8" r="3.85"/><circle cx="1509.4" cy="1052.8" r="3.85"/><circle cx="1509.4" cy="1055.9" r="3.85"/><circle cx="1509.4" cy="1060.3" r="3.85"/><circle cx="1509.4" cy="1062.2" r="3.85"/><circle cx="1509.4" cy="1066.6" r="3.85"/><circle cx="1509.4" cy="1070.5" r="3.85"/><circle cx="1509.4" cy="1072.2" r="3.85"/><circle cx="1509.4" cy="1076.6" r="3.85"/><circle cx="1509.4" cy="1088" r="3.85"/><circle cx="1509.4" cy="1099.7" r="3.85"/><circle cx="1509.4" cy="1100.4" r="3.85"/></g>
<line class="dl" x1="1358" y1="918.7" x2="1509.4" y2="940"/>
<path class="eb" d="M1343.2 893.7H1372.8M1358 893.7V942M1343.2 942H1372.8"/><path class="eb" d="M1494.6 916.2H1524.2M1509.4 916.2V964.5M1494.6 964.5H1524.2"/>
<line class="ax" x1="1259.5" x2="1265.5" y1="611" y2="611"/><text class="tk" letter-spacing=".35" text-anchor="end" x="1255.3" y="616.7">4000</text><line class="ax" x1="1259.5" x2="1265.5" y1="761.4" y2="761.4"/><text class="tk" letter-spacing=".35" text-anchor="end" x="1255.3" y="767.1">3000</text><line class="ax" x1="1259.5" x2="1265.5" y1="911.7" y2="911.7"/><text class="tk" letter-spacing=".35" text-anchor="end" x="1255.3" y="917.4">2000</text><line class="ax" x1="1259.5" x2="1265.5" y1="1062" y2="1062"/><text class="tk" letter-spacing=".35" text-anchor="end" x="1255.3" y="1067.7">1000</text>
<line class="ax" x1="1358" x2="1358" y1="1124.9" y2="1131.1"/><text class="tk" letter-spacing=".5" text-anchor="middle" x="1358" y="1148.1">No</text><line class="ax" x1="1509.4" x2="1509.4" y1="1124.9" y2="1131.1"/><text class="tk" letter-spacing=".5" text-anchor="middle" x="1509.4" y="1148.1">Yes</text>
<text class="tt" text-anchor="middle" x="1432.8" y="1172">Phone Access</text>
<text class="ty" text-anchor="middle" transform="translate(1210.5 863) rotate(-90)">Caudal Anterior Cingulate Volume (mm^3)</text>
<text class="tt" x="1629.2" y="832">Phone Access</text>
<rect x="1631.5" y="846.3" width="31" height="62" fill="#F2F2F2"/>
<circle class="r" stroke-opacity=".78" cx="1647" cy="861.2" r="3.85"/><text class="lg" letter-spacing=".85" x="1671.8" y="867.3">No</text>
<circle class="t" stroke-opacity=".78" cx="1647" cy="893.2" r="3.85"/><text class="lg" letter-spacing=".85" x="1671.8" y="899.3">Yes</text>
</g>
<g>
<rect x="82" y="1196.5" width="330.4" height="525" fill="#EBEBEB"/>
<line class="gm" x1="82" x2="412.4" y1="1285.6" y2="1285.6"/><line class="gm" x1="82" x2="412.4" y1="1401.3" y2="1401.3"/><line class="gm" x1="82" x2="412.4" y1="1516.4" y2="1516.4"/><line class="gm" x1="82" x2="412.4" y1="1632" y2="1632"/>
<line class="gM" x1="82" x2="412.4" y1="1227.5" y2="1227.5"/><line class="gM" x1="82" x2="412.4" y1="1343" y2="1343"/><line class="gM" x1="82" x2="412.4" y1="1458.4" y2="1458.4"/><line class="gM" x1="82" x2="412.4" y1="1574" y2="1574"/><line class="gM" x1="82" x2="412.4" y1="1689.5" y2="1689.5"/><line class="gM" x1="171.2" x2="171.2" y1="1196.5" y2="1721.5"/><line class="gM" x1="322.5" x2="322.5" y1="1196.5" y2="1721.5"/>
<g class="r"><circle cx="171.2" cy="1337.2" r="3.85"/><circle cx="171.2" cy="1337.9" r="3.85"/><circle cx="171.2" cy="1347.5" r="3.85"/><circle cx="171.2" cy="1352.5" r="3.85"/><circle cx="171.2" cy="1361" r="3.85"/><circle cx="171.2" cy="1363.5" r="3.85"/><circle cx="171.2" cy="1372.5" r="3.85"/><circle cx="171.2" cy="1385" r="3.85"/><circle cx="171.2" cy="1389.5" r="3.85"/><circle cx="171.2" cy="1406.2" r="3.85"/><circle cx="171.2" cy="1421" r="3.85"/><circle cx="171.2" cy="1424" r="3.85"/><circle cx="171.2" cy="1427" r="3.85"/><circle cx="171.2" cy="1436" r="3.85"/><circle cx="171.2" cy="1445" r="3.85"/><circle cx="171.2" cy="1448" r="3.85"/><circle cx="171.2" cy="1451" r="3.85"/><circle cx="171.2" cy="1456.3" r="3.85"/><circle cx="171.2" cy="1458.6" r="3.85"/><circle cx="171.2" cy="1462.6" r="3.85"/><circle cx="171.2" cy="1464.9" r="3.85"/><circle cx="171.2" cy="1466.3" r="3.85"/><circle cx="171.2" cy="1468.9" r="3.85"/><circle cx="171.2" cy="1472.5" r="3.85"/><circle cx="171.2" cy="1473.9" r="3.85"/><circle cx="171.2" cy="1476.2" r="3.85"/><circle cx="171.2" cy="1478.9" r="3.85"/><circle cx="171.2" cy="1481.9" r="3.85"/><circle cx="171.2" cy="1484.4" r="3.85"/><circle cx="171.2" cy="1486.3" r="3.85"/><circle cx="171.2" cy="1489.3" r="3.85"/><circle cx="171.2" cy="1490.7" r="3.85"/><circle cx="171.2" cy="1493.4" r="3.85"/><circle cx="171.2" cy="1496.1" r="3.85"/><circle cx="171.2" cy="1499.1" r="3.85"/><circle cx="171.2" cy="1502" r="3.85"/><circle cx="171.2" cy="1503.2" r="3.85"/><circle cx="171.2" cy="1506.5" r="3.85"/><circle cx="171.2" cy="1510.4" r="3.85"/><circle cx="171.2" cy="1511.6" r="3.85"/><circle cx="171.2" cy="1514.9" r="3.85"/><circle cx="171.2" cy="1516.2" r="3.85"/><circle cx="171.2" cy="1518.1" r="3.85"/><circle cx="171.2" cy="1520.7" r="3.85"/><circle cx="171.2" cy="1523.8" r="3.85"/><circle cx="171.2" cy="1525.6" r="3.85"/><circle cx="171.2" cy="1528" r="3.85"/><circle cx="171.2" cy="1530.1" r="3.85"/><circle cx="171.2" cy="1533.5" r="3.85"/><circle cx="171.2" cy="1546.2" r="3.85"/><circle cx="171.2" cy="1550" r="3.85"/><circle cx="171.2" cy="1553" r="3.85"/><circle cx="171.2" cy="1555.2" r="3.85"/><circle cx="171.2" cy="1557.9" r="3.85"/><circle cx="171.2" cy="1559.9" r="3.85"/><circle cx="171.2" cy="1563.1" r="3.85"/><circle cx="171.2" cy="1566" r="3.85"/><circle cx="171.2" cy="1567.4" r="3.85"/><circle cx="171.2" cy="1569.6" r="3.85"/><circle cx="171.2" cy="1579.2" r="3.85"/><circle cx="171.2" cy="1595.2" r="3.85"/><circle cx="171.2" cy="1629" r="3.85"/><circle cx="171.2" cy="1635.2" r="3.85"/></g>
<g class="t"><circle cx="322.5" cy="1219.5" r="3.85"/><circle cx="322.5" cy="1267" r="3.85"/><circle cx="322.5" cy="1298.7" r="3.85"/><circle cx="322.5" cy="1303.7" r="3.85"/><circle cx="322.5" cy="1311" r="3.85"/><circle cx="322.5" cy="1318.4" r="3.85"/><circle cx="322.5" cy="1319.1" r="3.85"/><circle cx="322.5" cy="1322.4" r="3.85"/><circle cx="322.5" cy="1323.8" r="3.85"/><circle cx="322.5" cy="1328.5" r="3.85"/><circle cx="322.5" cy="1330.1" r="3.85"/><circle cx="322.5" cy="1333.8" r="3.85"/><circle cx="322.5" cy="1336.3" r="3.85"/><circle cx="322.5" cy="1336.5" r="3.85"/><circle cx="322.5" cy="1337.1" r="3.85"/><circle cx="322.5" cy="1337.6" r="3.85"/><circle cx="322.5" cy="1338.3" r="3.85"/><circle cx="322.5" cy="1339.7" r="3.85"/><circle cx="322.5" cy="1340.3" r="3.85"/><circle cx="322.5" cy="1341.1" r="3.85"/><circle cx="322.5" cy="1342" r="3.85"/><circle cx="322.5" cy="1343.7" r="3.85"/><circle cx="322.5" cy="1344.5" r="3.85"/><circle cx="322.5" cy="1345.7" r="3.85"/><circle cx="322.5" cy="1346.9" r="3.85"/><circle cx="322.5" cy="1347.6" r="3.85"/><circle cx="322.5" cy="1349.1" r="3.85"/><circle cx="322.5" cy="1349.7" r="3.85"/><circle cx="322.5" cy="1351" r="3.85"/><circle cx="322.5" cy="1352.3" r="3.85"/><circle cx="322.5" cy="1353.2" r="3.85"/><circle cx="322.5" cy="1354.1" r="3.85"/><circle cx="322.5" cy="1355.3" r="3.85"/><circle cx="322.5" cy="1356.4" r="3.85"/><circle cx="322.5" cy="1357.4" r="3.85"/><circle cx="322.5" cy="1358.5" r="3.85"/><circle cx="322.5" cy="1359.7" r="3.85"/><circle cx="322.5" cy="1360.7" r="3.85"/><circle cx="322.5" cy="1361.7" r="3.85"/><circle cx="322.5" cy="1362.5" r="3.85"/><circle cx="322.5" cy="1363.1" r="3.85"/><circle cx="322.5" cy="1364.3" r="3.85"/><circle cx="322.5" cy="1365.3" r="3.85"/><circle cx="322.5" cy="1366.2" r="3.85"/><circle cx="322.5" cy="1367.5" r="3.85"/><circle cx="322.5" cy="1368.4" r="3.85"/><circle cx="322.5" cy="1369.8" r="3.85"/><circle cx="322.5" cy="1371" r="3.85"/><circle cx="322.5" cy="1371.8" r="3.85"/><circle cx="322.5" cy="1372.8" r="3.85"/><circle cx="322.5" cy="1373.7" r="3.85"/><circle cx="322.5" cy="1375.1" r="3.85"/><circle cx="322.5" cy="1375.7" r="3.85"/><circle cx="322.5" cy="1376.7" r="3.85"/><circle cx="322.5" cy="1378.1" r="3.85"/><circle cx="322.5" cy="1378.9" r="3.85"/><circle cx="322.5" cy="1379.7" r="3.85"/><circle cx="322.5" cy="1380.5" r="3.85"/><circle cx="322.5" cy="1381.9" r="3.85"/><circle cx="322.5" cy="1382.4" r="3.85"/><circle cx="322.5" cy="1383.7" r="3.85"/><circle cx="322.5" cy="1384.7" r="3.85"/><circle cx="322.5" cy="1385.5" r="3.85"/><circle cx="322.5" cy="1386.5" r="3.85"/><circle cx="322.5" cy="1387.8" r="3.85"/><circle cx="322.5" cy="1389.2" r="3.85"/><circle cx="322.5" cy="1389.6" r="3.85"/><circle cx="322.5" cy="1391.1" r="3.85"/><circle cx="322.5" cy="1392.1" r="3.85"/><circle cx="322.5" cy="1393.5" r="3.85"/><circle cx="322.5" cy="1394.5" r="3.85"/><circle cx="322.5" cy="1395.3" r="3.85"/><circle cx="322.5" cy="1395.9" r="3.85"/><circle cx="322.5" cy="1396.4" r="3.85"/><circle cx="322.5" cy="1397.8" r="3.85"/><circle cx="322.5" cy="1398.8" r="3.85"/><circle cx="322.5" cy="1399.6" r="3.85"/><circle cx="322.5" cy="1401.2" r="3.85"/><circle cx="322.5" cy="1401.9" r="3.85"/><circle cx="322.5" cy="1403.4" r="3.85"/><circle cx="322.5" cy="1404" r="3.85"/><circle cx="322.5" cy="1405.3" r="3.85"/><circle cx="322.5" cy="1406.4" r="3.85"/><circle cx="322.5" cy="1407.7" r="3.85"/><circle cx="322.5" cy="1408.6" r="3.85"/><circle cx="322.5" cy="1409.9" r="3.85"/><circle cx="322.5" cy="1410.5" r="3.85"/><circle cx="322.5" cy="1411.6" r="3.85"/><circle cx="322.5" cy="1413.2" r="3.85"/><circle cx="322.5" cy="1414" r="3.85"/><circle cx="322.5" cy="1415.5" r="3.85"/><circle cx="322.5" cy="1416.5" r="3.85"/><circle cx="322.5" cy="1417" r="3.85"/><circle cx="322.5" cy="1418.2" r="3.85"/><circle cx="322.5" cy="1418.9" r="3.85"/><circle cx="322.5" cy="1420.2" r="3.85"/><circle cx="322.5" cy="1420.8" r="3.85"/><circle cx="322.5" cy="1422.1" r="3.85"/><circle cx="322.5" cy="1423.1" r="3.85"/><circle cx="322.5" cy="1423.9" r="3.85"/><circle cx="322.5" cy="1425.1" r="3.85"/><circle cx="322.5" cy="1426.1" r="3.85"/><circle cx="322.5" cy="1426.9" r="3.85"/><circle cx="322.5" cy="1428.3" r="3.85"/><circle cx="322.5" cy="1429.1" r="3.85"/><circle cx="322.5" cy="1430.2" r="3.85"/><circle cx="322.5" cy="1431.5" r="3.85"/><circle cx="322.5" cy="1431.9" r="3.85"/><circle cx="322.5" cy="1433.5" r="3.85"/><circle cx="322.5" cy="1434.2" r="3.85"/><circle cx="322.5" cy="1434.7" r="3.85"/><circle cx="322.5" cy="1435.5" r="3.85"/><circle cx="322.5" cy="1436.9" r="3.85"/><circle cx="322.5" cy="1437.6" r="3.85"/><circle cx="322.5" cy="1439" r="3.85"/><circle cx="322.5" cy="1439.4" r="3.85"/><circle cx="322.5" cy="1440.3" r="3.85"/><circle cx="322.5" cy="1441.3" r="3.85"/><circle cx="322.5" cy="1442.7" r="3.85"/><circle cx="322.5" cy="1443" r="3.85"/><circle cx="322.5" cy="1444.4" r="3.85"/><circle cx="322.5" cy="1445.7" r="3.85"/><circle cx="322.5" cy="1446.6" r="3.85"/><circle cx="322.5" cy="1447.8" r="3.85"/><circle cx="322.5" cy="1448.6" r="3.85"/><circle cx="322.5" cy="1449.8" r="3.85"/><circle cx="322.5" cy="1450.4" r="3.85"/><circle cx="322.5" cy="1451.8" r="3.85"/><circle cx="322.5" cy="1452.7" r="3.85"/><circle cx="322.5" cy="1453.7" r="3.85"/><circle cx="322.5" cy="1454.5" r="3.85"/><circle cx="322.5" cy="1455.2" r="3.85"/><circle cx="322.5" cy="1456.4" r="3.85"/><circle cx="322.5" cy="1457.1" r="3.85"/><circle cx="322.5" cy="1458.6" r="3.85"/><circle cx="322.5" cy="1459.5" r="3.85"/><circle cx="322.5" cy="1460.4" r="3.85"/><circle cx="322.5" cy="1461.7" r="3.85"/><circle cx="322.5" cy="1462.9" r="3.85"/><circle cx="322.5" cy="1464.1" r="3.85"/><circle cx="322.5" cy="1465.2" r="3.85"/><circle cx="322.5" cy="1465.9" r="3.85"/><circle cx="322.5" cy="1467.2" r="3.85"/><circle cx="322.5" cy="1467.6" r="3.85"/><circle cx="322.5" cy="1469.1" r="3.85"/><circle cx="322.5" cy="1470.2" r="3.85"/><circle cx="322.5" cy="1471" r="3.85"/><circle cx="322.5" cy="1471.9" r="3.85"/><circle cx="322.5" cy="1473.1" r="3.85"/><circle cx="322.5" cy="1474.4" r="3.85"/><circle cx="322.5" cy="1475.3" r="3.85"/><circle cx="322.5" cy="1476.2" r="3.85"/><circle cx="322.5" cy="1477.8" r="3.85"/><circle cx="322.5" cy="1478.5" r="3.85"/><circle cx="322.5" cy="1480" r="3.85"/><circle cx="322.5" cy="1481.1" r="3.85"/><circle cx="322.5" cy="1482.2" r="3.85"/><circle cx="322.5" cy="1483.3" r="3.85"/><circle cx="322.5" cy="1484.1" r="3.85"/><circle cx="322.5" cy="1485.6" r="3.85"/><circle cx="322.5" cy="1486.4" r="3.85"/><circle cx="322.5" cy="1487.4" r="3.85"/><circle cx="322.5" cy="1488.3" r="3.85"/><circle cx="322.5" cy="1489.1" r="3.85"/><circle cx="322.5" cy="1490.2" r="3.85"/><circle cx="322.5" cy="1491.6" r="3.85"/><circle cx="322.5" cy="1492.4" r="3.85"/><circle cx="322.5" cy="1493.3" r="3.85"/><circle cx="322.5" cy="1493.6" r="3.85"/><circle cx="322.5" cy="1494.8" r="3.85"/><circle cx="322.5" cy="1495.6" r="3.85"/><circle cx="322.5" cy="1496.9" r="3.85"/><circle cx="322.5" cy="1497.7" r="3.85"/><circle cx="322.5" cy="1499" r="3.85"/><circle cx="322.5" cy="1500.2" r="3.85"/><circle cx="322.5" cy="1500.9" r="3.85"/><circle cx="322.5" cy="1501.8" r="3.85"/><circle cx="322.5" cy="1503" r="3.85"/><circle cx="322.5" cy="1504.6" r="3.85"/><circle cx="322.5" cy="1505.1" r="3.85"/><circle cx="322.5" cy="1506.2" r="3.85"/><circle cx="322.5" cy="1507.5" r="3.85"/><circle cx="322.5" cy="1508.4" r="3.85"/><circle cx="322.5" cy="1509.5" r="3.85"/><circle cx="322.5" cy="1510.4" r="3.85"/><circle cx="322.5" cy="1511.2" r="3.85"/><circle cx="322.5" cy="1512.9" r="3.85"/><circle cx="322.5" cy="1514.1" r="3.85"/><circle cx="322.5" cy="1515" r="3.85"/><circle cx="322.5" cy="1515.4" r="3.85"/><circle cx="322.5" cy="1516.2" r="3.85"/><circle cx="322.5" cy="1517.5" r="3.85"/><circle cx="322.5" cy="1518.2" r="3.85"/><circle cx="322.5" cy="1519.1" r="3.85"/><circle cx="322.5" cy="1519.9" r="3.85"/><circle cx="322.5" cy="1521.2" r="3.85"/><circle cx="322.5" cy="1521.9" r="3.85"/><circle cx="322.5" cy="1523" r="3.85"/><circle cx="322.5" cy="1524.2" r="3.85"/><circle cx="322.5" cy="1525.6" r="3.85"/><circle cx="322.5" cy="1526.7" r="3.85"/><circle cx="322.5" cy="1527.7" r="3.85"/><circle cx="322.5" cy="1528.4" r="3.85"/><circle cx="322.5" cy="1529.2" r="3.85"/><circle cx="322.5" cy="1530.9" r="3.85"/><circle cx="322.5" cy="1531.6" r="3.85"/><circle cx="322.5" cy="1532.5" r="3.85"/><circle cx="322.5" cy="1534.1" r="3.85"/><circle cx="322.5" cy="1534.4" r="3.85"/><circle cx="322.5" cy="1535.4" r="3.85"/><circle cx="322.5" cy="1536.9" r="3.85"/><circle cx="322.5" cy="1537.4" r="3.85"/><circle cx="322.5" cy="1538.3" r="3.85"/><circle cx="322.5" cy="1539.6" r="3.85"/><circle cx="322.5" cy="1541.2" r="3.85"/><circle cx="322.5" cy="1544" r="3.85"/><circle cx="322.5" cy="1546.7" r="3.85"/><circle cx="322.5" cy="1550" r="3.85"/><circle cx="322.5" cy="1552.3" r="3.85"/><circle cx="322.5" cy="1554.5" r="3.85"/><circle cx="322.5" cy="1559.6" r="3.85"/><circle cx="322.5" cy="1563.8" r="3.85"/><circle cx="322.5" cy="1566.2" r="3.85"/><circle cx="322.5" cy="1569.2" r="3.85"/><circle cx="322.5" cy="1571.3" r="3.85"/><circle cx="322.5" cy="1573.7" r="3.85"/><circle cx="322.5" cy="1577.2" r="3.85"/><circle cx="322.5" cy="1580.4" r="3.85"/><circle cx="322.5" cy="1583.1" r="3.85"/><circle cx="322.5" cy="1586.3" r="3.85"/><circle cx="322.5" cy="1587.6" r="3.85"/><circle cx="322.5" cy="1596" r="3.85"/><circle cx="322.5" cy="1596.6" r="3.85"/><circle cx="322.5" cy="1597.2" r="3.85"/><circle cx="322.5" cy="1606.5" r="3.85"/><circle cx="322.5" cy="1610" r="3.85"/><circle cx="322.5" cy="1614" r="3.85"/><circle cx="322.5" cy="1626.5" r="3.85"/><circle cx="322.5" cy="1629.5" r="3.85"/><circle cx="322.5" cy="1632.7" r="3.85"/><circle cx="322.5" cy="1648.5" r="3.85"/><circle cx="322.5" cy="1697.7" r="3.85"/></g>
<line class="dl" x1="171.2" y1="1485.5" x2="322.5" y2="1457"/>
<path class="eb" d="M156.2 1460.5H186.2M171.2 1460.5V1510.7M156.2 1510.7H186.2"/><path class="eb" d="M307.5 1431.2H337.5M322.5 1431.2V1481.2M307.5 1481.2H337.5"/>
<line class="ax" x1="76" x2="82" y1="1227.5" y2="1227.5"/><text class="tk" letter-spacing=".35" text-anchor="end" x="71.7" y="1233.2">35000</text><line class="ax" x1="76" x2="82" y1="1343" y2="1343"/><text class="tk" letter-spacing=".35" text-anchor="end" x="71.7" y="1348.7">30000</text><line class="ax" x1="76" x2="82" y1="1458.4" y2="1458.4"/><text class="tk" letter-spacing=".35" text-anchor="end" x="71.7" y="1464.1">25000</text><line class="ax" x1="76" x2="82" y1="1574" y2="1574"/><text class="tk" letter-spacing=".35" text-anchor="end" x="71.7" y="1579.7">20000</text><line class="ax" x1="76" x2="82" y1="1689.5" y2="1689.5"/><text class="tk" letter-spacing=".35" text-anchor="end" x="71.7" y="1695.2">15000</text>
<line class="ax" x1="171.2" x2="171.2" y1="1721.9" y2="1728.1"/><text class="tk" letter-spacing=".5" text-anchor="middle" x="171.2" y="1743.8">No</text><line class="ax" x1="322.5" x2="322.5" y1="1721.9" y2="1728.1"/><text class="tk" letter-spacing=".5" text-anchor="middle" x="322.5" y="1743.8">Yes</text>
<text class="tt" text-anchor="middle" x="247.2" y="1766.5">Water Access</text>
<text class="ty" text-anchor="middle" transform="translate(16.5 1460) rotate(-90)">Superior Frontal Volume (mm^3)</text>
<text class="tt" x="441.8" y="1429">Water Access</text>
<rect x="442.6" y="1442.7" width="30.6" height="62.4" fill="#F2F2F2"/>
<circle class="r" stroke-opacity=".78" cx="457.9" cy="1457.6" r="3.85"/><text class="lg" letter-spacing=".85" x="483.4" y="1463.8">No</text>
<circle class="t" stroke-opacity=".78" cx="457.9" cy="1490" r="3.85"/><text class="lg" letter-spacing=".85" x="483.4" y="1496.2">Yes</text>
</g>
<text class="pl" x="6.6" y="31.5">A</text>
<text class="pl" x="5.3" y="601.1">B</text>
<text class="pl" x="6.3" y="1197.8">C</text>
</svg>
</body>
</html>
